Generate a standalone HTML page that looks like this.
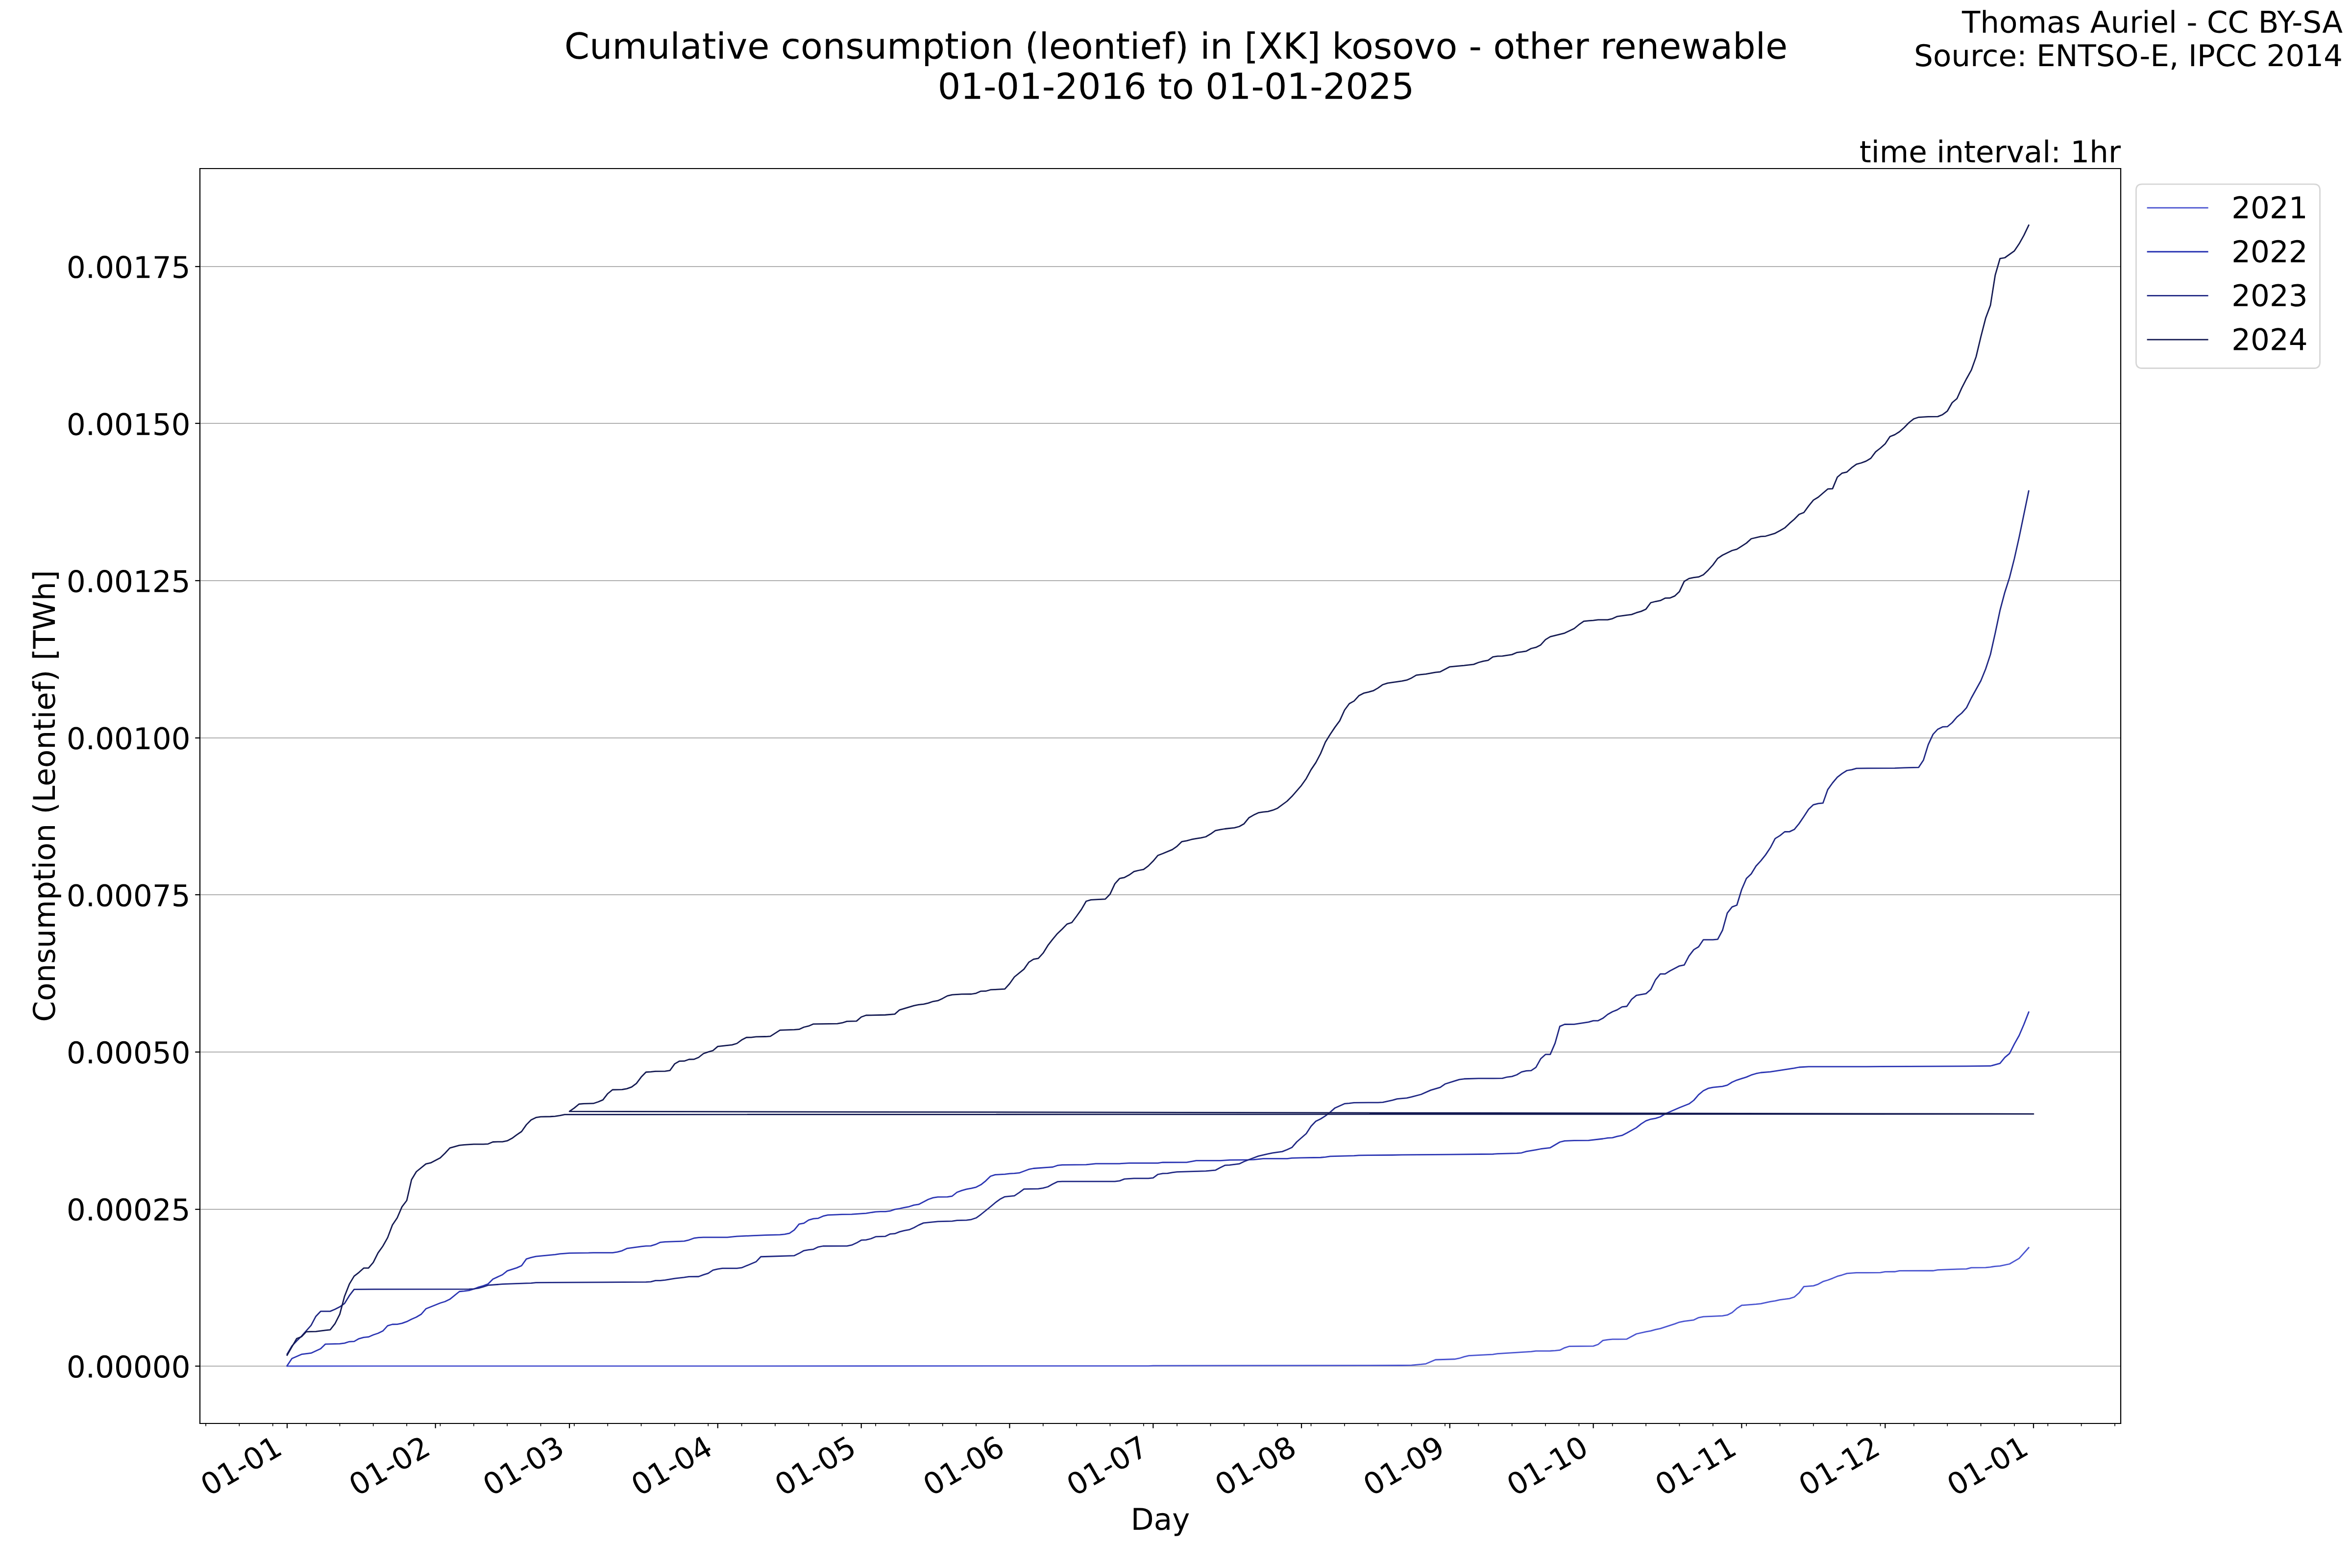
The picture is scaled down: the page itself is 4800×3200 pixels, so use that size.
<!DOCTYPE html>
<html><head><meta charset="utf-8"><title>Cumulative consumption (leontief) in [XK] kosovo - other renewable</title>
<style>html,body{margin:0;padding:0;background:#fff;overflow:hidden;font-family:"Liberation Sans",sans-serif}svg{display:block}</style>
</head><body>
<svg width="4800" height="3200" viewBox="0 0 1728 1152" version="1.1">
 <defs>
  <style type="text/css">*{stroke-linejoin: round; stroke-linecap: butt}</style>
 </defs>
 <g id="figure_1">
  <g id="patch_1">
   <path d="M 0 1152 L 1728 1152 L 1728 0 L 0 0 z
" style="fill: #ffffff"/>
  </g>
  <g id="axes_1">
   <g id="patch_2">
    <path d="M 146.88 1045.8 L 1558.08 1045.8 L 1558.08 123.84 L 146.88 123.84 z
" style="fill: #ffffff"/>
   </g>
   <g id="matplotlib.axis_1">
    <g id="xtick_1">
     <g id="line2d_1">
      <defs>
       <path id="m1504cfccaf" d="M 0 0 L 0 3.5 " style="stroke: #000000; stroke-width: 0.8"/>
      </defs>
      <g>
       <use href="#m1504cfccaf" x="210.96" y="1045.8" style="stroke: #000000; stroke-width: 0.8"/>
      </g>
     </g>
     <g id="text_1">
      <!-- 01-01 -->
      <g transform="translate(153.309775 1099.600562) rotate(-30) scale(0.22 -0.22)">
       <defs>
        <path id="DejaVuSans-30" d="M 2034 4250 Q 1547 4250 1301 3770 Q 1056 3291 1056 2328 Q 1056 1369 1301 889 Q 1547 409 2034 409 Q 2525 409 2770 889 Q 3016 1369 3016 2328 Q 3016 3291 2770 3770 Q 2525 4250 2034 4250 z
M 2034 4750 Q 2819 4750 3233 4129 Q 3647 3509 3647 2328 Q 3647 1150 3233 529 Q 2819 -91 2034 -91 Q 1250 -91 836 529 Q 422 1150 422 2328 Q 422 3509 836 4129 Q 1250 4750 2034 4750 z
" transform="scale(0.015625)"/>
        <path id="DejaVuSans-31" d="M 794 531 L 1825 531 L 1825 4091 L 703 3866 L 703 4441 L 1819 4666 L 2450 4666 L 2450 531 L 3481 531 L 3481 0 L 794 0 L 794 531 z
" transform="scale(0.015625)"/>
        <path id="DejaVuSans-2d" d="M 313 2009 L 1997 2009 L 1997 1497 L 313 1497 L 313 2009 z
" transform="scale(0.015625)"/>
       </defs>
       <use href="#DejaVuSans-30"/>
       <use href="#DejaVuSans-31" transform="translate(63.623047 0)"/>
       <use href="#DejaVuSans-2d" transform="translate(127.246094 0)"/>
       <use href="#DejaVuSans-30" transform="translate(163.330078 0)"/>
       <use href="#DejaVuSans-31" transform="translate(226.953125 0)"/>
      </g>
     </g>
    </g>
    <g id="xtick_2">
     <g id="line2d_2">
      <g>
       <use href="#m1504cfccaf" x="319.930521" y="1045.8" style="stroke: #000000; stroke-width: 0.8"/>
      </g>
     </g>
     <g id="text_2">
      <!-- 01-02 -->
      <g transform="translate(262.280296 1099.600562) rotate(-30) scale(0.22 -0.22)">
       <defs>
        <path id="DejaVuSans-32" d="M 1228 531 L 3431 531 L 3431 0 L 469 0 L 469 531 Q 828 903 1448 1529 Q 2069 2156 2228 2338 Q 2531 2678 2651 2914 Q 2772 3150 2772 3378 Q 2772 3750 2511 3984 Q 2250 4219 1831 4219 Q 1534 4219 1204 4116 Q 875 4013 500 3803 L 500 4441 Q 881 4594 1212 4672 Q 1544 4750 1819 4750 Q 2544 4750 2975 4387 Q 3406 4025 3406 3419 Q 3406 3131 3298 2873 Q 3191 2616 2906 2266 Q 2828 2175 2409 1742 Q 1991 1309 1228 531 z
" transform="scale(0.015625)"/>
       </defs>
       <use href="#DejaVuSans-30"/>
       <use href="#DejaVuSans-31" transform="translate(63.623047 0)"/>
       <use href="#DejaVuSans-2d" transform="translate(127.246094 0)"/>
       <use href="#DejaVuSans-30" transform="translate(163.330078 0)"/>
       <use href="#DejaVuSans-32" transform="translate(226.953125 0)"/>
      </g>
     </g>
    </g>
    <g id="xtick_3">
     <g id="line2d_3">
      <g>
       <use href="#m1504cfccaf" x="418.355507" y="1045.8" style="stroke: #000000; stroke-width: 0.8"/>
      </g>
     </g>
     <g id="text_3">
      <!-- 01-03 -->
      <g transform="translate(360.705282 1099.600562) rotate(-30) scale(0.22 -0.22)">
       <defs>
        <path id="DejaVuSans-33" d="M 2597 2516 Q 3050 2419 3304 2112 Q 3559 1806 3559 1356 Q 3559 666 3084 287 Q 2609 -91 1734 -91 Q 1441 -91 1130 -33 Q 819 25 488 141 L 488 750 Q 750 597 1062 519 Q 1375 441 1716 441 Q 2309 441 2620 675 Q 2931 909 2931 1356 Q 2931 1769 2642 2001 Q 2353 2234 1838 2234 L 1294 2234 L 1294 2753 L 1863 2753 Q 2328 2753 2575 2939 Q 2822 3125 2822 3475 Q 2822 3834 2567 4026 Q 2313 4219 1838 4219 Q 1578 4219 1281 4162 Q 984 4106 628 3988 L 628 4550 Q 988 4650 1302 4700 Q 1616 4750 1894 4750 Q 2613 4750 3031 4423 Q 3450 4097 3450 3541 Q 3450 3153 3228 2886 Q 3006 2619 2597 2516 z
" transform="scale(0.015625)"/>
       </defs>
       <use href="#DejaVuSans-30"/>
       <use href="#DejaVuSans-31" transform="translate(63.623047 0)"/>
       <use href="#DejaVuSans-2d" transform="translate(127.246094 0)"/>
       <use href="#DejaVuSans-30" transform="translate(163.330078 0)"/>
       <use href="#DejaVuSans-33" transform="translate(226.953125 0)"/>
      </g>
     </g>
    </g>
    <g id="xtick_4">
     <g id="line2d_4">
      <g>
       <use href="#m1504cfccaf" x="527.326027" y="1045.8" style="stroke: #000000; stroke-width: 0.8"/>
      </g>
     </g>
     <g id="text_4">
      <!-- 01-04 -->
      <g transform="translate(469.675803 1099.600562) rotate(-30) scale(0.22 -0.22)">
       <defs>
        <path id="DejaVuSans-34" d="M 2419 4116 L 825 1625 L 2419 1625 L 2419 4116 z
M 2253 4666 L 3047 4666 L 3047 1625 L 3713 1625 L 3713 1100 L 3047 1100 L 3047 0 L 2419 0 L 2419 1100 L 313 1100 L 313 1709 L 2253 4666 z
" transform="scale(0.015625)"/>
       </defs>
       <use href="#DejaVuSans-30"/>
       <use href="#DejaVuSans-31" transform="translate(63.623047 0)"/>
       <use href="#DejaVuSans-2d" transform="translate(127.246094 0)"/>
       <use href="#DejaVuSans-30" transform="translate(163.330078 0)"/>
       <use href="#DejaVuSans-34" transform="translate(226.953125 0)"/>
      </g>
     </g>
    </g>
    <g id="xtick_5">
     <g id="line2d_5">
      <g>
       <use href="#m1504cfccaf" x="632.78137" y="1045.8" style="stroke: #000000; stroke-width: 0.8"/>
      </g>
     </g>
     <g id="text_5">
      <!-- 01-05 -->
      <g transform="translate(575.131145 1099.600562) rotate(-30) scale(0.22 -0.22)">
       <defs>
        <path id="DejaVuSans-35" d="M 691 4666 L 3169 4666 L 3169 4134 L 1269 4134 L 1269 2991 Q 1406 3038 1543 3061 Q 1681 3084 1819 3084 Q 2600 3084 3056 2656 Q 3513 2228 3513 1497 Q 3513 744 3044 326 Q 2575 -91 1722 -91 Q 1428 -91 1123 -41 Q 819 9 494 109 L 494 744 Q 775 591 1075 516 Q 1375 441 1709 441 Q 2250 441 2565 725 Q 2881 1009 2881 1497 Q 2881 1984 2565 2268 Q 2250 2553 1709 2553 Q 1456 2553 1204 2497 Q 953 2441 691 2322 L 691 4666 z
" transform="scale(0.015625)"/>
       </defs>
       <use href="#DejaVuSans-30"/>
       <use href="#DejaVuSans-31" transform="translate(63.623047 0)"/>
       <use href="#DejaVuSans-2d" transform="translate(127.246094 0)"/>
       <use href="#DejaVuSans-30" transform="translate(163.330078 0)"/>
       <use href="#DejaVuSans-35" transform="translate(226.953125 0)"/>
      </g>
     </g>
    </g>
    <g id="xtick_6">
     <g id="line2d_6">
      <g>
       <use href="#m1504cfccaf" x="741.75189" y="1045.8" style="stroke: #000000; stroke-width: 0.8"/>
      </g>
     </g>
     <g id="text_6">
      <!-- 01-06 -->
      <g transform="translate(684.101666 1099.600562) rotate(-30) scale(0.22 -0.22)">
       <defs>
        <path id="DejaVuSans-36" d="M 2113 2584 Q 1688 2584 1439 2293 Q 1191 2003 1191 1497 Q 1191 994 1439 701 Q 1688 409 2113 409 Q 2538 409 2786 701 Q 3034 994 3034 1497 Q 3034 2003 2786 2293 Q 2538 2584 2113 2584 z
M 3366 4563 L 3366 3988 Q 3128 4100 2886 4159 Q 2644 4219 2406 4219 Q 1781 4219 1451 3797 Q 1122 3375 1075 2522 Q 1259 2794 1537 2939 Q 1816 3084 2150 3084 Q 2853 3084 3261 2657 Q 3669 2231 3669 1497 Q 3669 778 3244 343 Q 2819 -91 2113 -91 Q 1303 -91 875 529 Q 447 1150 447 2328 Q 447 3434 972 4092 Q 1497 4750 2381 4750 Q 2619 4750 2861 4703 Q 3103 4656 3366 4563 z
" transform="scale(0.015625)"/>
       </defs>
       <use href="#DejaVuSans-30"/>
       <use href="#DejaVuSans-31" transform="translate(63.623047 0)"/>
       <use href="#DejaVuSans-2d" transform="translate(127.246094 0)"/>
       <use href="#DejaVuSans-30" transform="translate(163.330078 0)"/>
       <use href="#DejaVuSans-36" transform="translate(226.953125 0)"/>
      </g>
     </g>
    </g>
    <g id="xtick_7">
     <g id="line2d_7">
      <g>
       <use href="#m1504cfccaf" x="847.207233" y="1045.8" style="stroke: #000000; stroke-width: 0.8"/>
      </g>
     </g>
     <g id="text_7">
      <!-- 01-07 -->
      <g transform="translate(789.557008 1099.600562) rotate(-30) scale(0.22 -0.22)">
       <defs>
        <path id="DejaVuSans-37" d="M 525 4666 L 3525 4666 L 3525 4397 L 1831 0 L 1172 0 L 2766 4134 L 525 4134 L 525 4666 z
" transform="scale(0.015625)"/>
       </defs>
       <use href="#DejaVuSans-30"/>
       <use href="#DejaVuSans-31" transform="translate(63.623047 0)"/>
       <use href="#DejaVuSans-2d" transform="translate(127.246094 0)"/>
       <use href="#DejaVuSans-30" transform="translate(163.330078 0)"/>
       <use href="#DejaVuSans-37" transform="translate(226.953125 0)"/>
      </g>
     </g>
    </g>
    <g id="xtick_8">
     <g id="line2d_8">
      <g>
       <use href="#m1504cfccaf" x="956.177753" y="1045.8" style="stroke: #000000; stroke-width: 0.8"/>
      </g>
     </g>
     <g id="text_8">
      <!-- 01-08 -->
      <g transform="translate(898.527529 1099.600562) rotate(-30) scale(0.22 -0.22)">
       <defs>
        <path id="DejaVuSans-38" d="M 2034 2216 Q 1584 2216 1326 1975 Q 1069 1734 1069 1313 Q 1069 891 1326 650 Q 1584 409 2034 409 Q 2484 409 2743 651 Q 3003 894 3003 1313 Q 3003 1734 2745 1975 Q 2488 2216 2034 2216 z
M 1403 2484 Q 997 2584 770 2862 Q 544 3141 544 3541 Q 544 4100 942 4425 Q 1341 4750 2034 4750 Q 2731 4750 3128 4425 Q 3525 4100 3525 3541 Q 3525 3141 3298 2862 Q 3072 2584 2669 2484 Q 3125 2378 3379 2068 Q 3634 1759 3634 1313 Q 3634 634 3220 271 Q 2806 -91 2034 -91 Q 1263 -91 848 271 Q 434 634 434 1313 Q 434 1759 690 2068 Q 947 2378 1403 2484 z
M 1172 3481 Q 1172 3119 1398 2916 Q 1625 2713 2034 2713 Q 2441 2713 2670 2916 Q 2900 3119 2900 3481 Q 2900 3844 2670 4047 Q 2441 4250 2034 4250 Q 1625 4250 1398 4047 Q 1172 3844 1172 3481 z
" transform="scale(0.015625)"/>
       </defs>
       <use href="#DejaVuSans-30"/>
       <use href="#DejaVuSans-31" transform="translate(63.623047 0)"/>
       <use href="#DejaVuSans-2d" transform="translate(127.246094 0)"/>
       <use href="#DejaVuSans-30" transform="translate(163.330078 0)"/>
       <use href="#DejaVuSans-38" transform="translate(226.953125 0)"/>
      </g>
     </g>
    </g>
    <g id="xtick_9">
     <g id="line2d_9">
      <g>
       <use href="#m1504cfccaf" x="1065.148274" y="1045.8" style="stroke: #000000; stroke-width: 0.8"/>
      </g>
     </g>
     <g id="text_9">
      <!-- 01-09 -->
      <g transform="translate(1007.498049 1099.600562) rotate(-30) scale(0.22 -0.22)">
       <defs>
        <path id="DejaVuSans-39" d="M 703 97 L 703 672 Q 941 559 1184 500 Q 1428 441 1663 441 Q 2288 441 2617 861 Q 2947 1281 2994 2138 Q 2813 1869 2534 1725 Q 2256 1581 1919 1581 Q 1219 1581 811 2004 Q 403 2428 403 3163 Q 403 3881 828 4315 Q 1253 4750 1959 4750 Q 2769 4750 3195 4129 Q 3622 3509 3622 2328 Q 3622 1225 3098 567 Q 2575 -91 1691 -91 Q 1453 -91 1209 -44 Q 966 3 703 97 z
M 1959 2075 Q 2384 2075 2632 2365 Q 2881 2656 2881 3163 Q 2881 3666 2632 3958 Q 2384 4250 1959 4250 Q 1534 4250 1286 3958 Q 1038 3666 1038 3163 Q 1038 2656 1286 2365 Q 1534 2075 1959 2075 z
" transform="scale(0.015625)"/>
       </defs>
       <use href="#DejaVuSans-30"/>
       <use href="#DejaVuSans-31" transform="translate(63.623047 0)"/>
       <use href="#DejaVuSans-2d" transform="translate(127.246094 0)"/>
       <use href="#DejaVuSans-30" transform="translate(163.330078 0)"/>
       <use href="#DejaVuSans-39" transform="translate(226.953125 0)"/>
      </g>
     </g>
    </g>
    <g id="xtick_10">
     <g id="line2d_10">
      <g>
       <use href="#m1504cfccaf" x="1170.603616" y="1045.8" style="stroke: #000000; stroke-width: 0.8"/>
      </g>
     </g>
     <g id="text_10">
      <!-- 01-10 -->
      <g transform="translate(1112.953392 1099.600562) rotate(-30) scale(0.22 -0.22)">
       <use href="#DejaVuSans-30"/>
       <use href="#DejaVuSans-31" transform="translate(63.623047 0)"/>
       <use href="#DejaVuSans-2d" transform="translate(127.246094 0)"/>
       <use href="#DejaVuSans-31" transform="translate(163.330078 0)"/>
       <use href="#DejaVuSans-30" transform="translate(226.953125 0)"/>
      </g>
     </g>
    </g>
    <g id="xtick_11">
     <g id="line2d_11">
      <g>
       <use href="#m1504cfccaf" x="1279.574137" y="1045.8" style="stroke: #000000; stroke-width: 0.8"/>
      </g>
     </g>
     <g id="text_11">
      <!-- 01-11 -->
      <g transform="translate(1221.923912 1099.600562) rotate(-30) scale(0.22 -0.22)">
       <use href="#DejaVuSans-30"/>
       <use href="#DejaVuSans-31" transform="translate(63.623047 0)"/>
       <use href="#DejaVuSans-2d" transform="translate(127.246094 0)"/>
       <use href="#DejaVuSans-31" transform="translate(163.330078 0)"/>
       <use href="#DejaVuSans-31" transform="translate(226.953125 0)"/>
      </g>
     </g>
    </g>
    <g id="xtick_12">
     <g id="line2d_12">
      <g>
       <use href="#m1504cfccaf" x="1385.029479" y="1045.8" style="stroke: #000000; stroke-width: 0.8"/>
      </g>
     </g>
     <g id="text_12">
      <!-- 01-12 -->
      <g transform="translate(1327.379255 1099.600562) rotate(-30) scale(0.22 -0.22)">
       <use href="#DejaVuSans-30"/>
       <use href="#DejaVuSans-31" transform="translate(63.623047 0)"/>
       <use href="#DejaVuSans-2d" transform="translate(127.246094 0)"/>
       <use href="#DejaVuSans-31" transform="translate(163.330078 0)"/>
       <use href="#DejaVuSans-32" transform="translate(226.953125 0)"/>
      </g>
     </g>
    </g>
    <g id="xtick_13">
     <g id="line2d_13">
      <g>
       <use href="#m1504cfccaf" x="1494" y="1045.8" style="stroke: #000000; stroke-width: 0.8"/>
      </g>
     </g>
     <g id="text_13">
      <!-- 01-01 -->
      <g transform="translate(1436.349775 1099.600562) rotate(-30) scale(0.22 -0.22)">
       <use href="#DejaVuSans-30"/>
       <use href="#DejaVuSans-31" transform="translate(63.623047 0)"/>
       <use href="#DejaVuSans-2d" transform="translate(127.246094 0)"/>
       <use href="#DejaVuSans-30" transform="translate(163.330078 0)"/>
       <use href="#DejaVuSans-31" transform="translate(226.953125 0)"/>
      </g>
     </g>
    </g>
    <g id="xtick_14">
     <g id="line2d_14">
      <defs>
       <path id="m05db3bdf9b" d="M 0 0 L 0 2 " style="stroke: #000000; stroke-width: 0.6"/>
      </defs>
      <g>
       <use href="#m05db3bdf9b" x="151.201973" y="1045.8" style="stroke: #000000; stroke-width: 0.6"/>
      </g>
     </g>
    </g>
    <g id="xtick_15">
     <g id="line2d_15">
      <g>
       <use href="#m05db3bdf9b" x="175.808219" y="1045.8" style="stroke: #000000; stroke-width: 0.6"/>
      </g>
     </g>
    </g>
    <g id="xtick_16">
     <g id="line2d_16">
      <g>
       <use href="#m05db3bdf9b" x="200.414466" y="1045.8" style="stroke: #000000; stroke-width: 0.6"/>
      </g>
     </g>
    </g>
    <g id="xtick_17">
     <g id="line2d_17">
      <g>
       <use href="#m05db3bdf9b" x="225.020712" y="1045.8" style="stroke: #000000; stroke-width: 0.6"/>
      </g>
     </g>
    </g>
    <g id="xtick_18">
     <g id="line2d_18">
      <g>
       <use href="#m05db3bdf9b" x="249.626959" y="1045.8" style="stroke: #000000; stroke-width: 0.6"/>
      </g>
     </g>
    </g>
    <g id="xtick_19">
     <g id="line2d_19">
      <g>
       <use href="#m05db3bdf9b" x="274.233205" y="1045.8" style="stroke: #000000; stroke-width: 0.6"/>
      </g>
     </g>
    </g>
    <g id="xtick_20">
     <g id="line2d_20">
      <g>
       <use href="#m05db3bdf9b" x="298.839452" y="1045.8" style="stroke: #000000; stroke-width: 0.6"/>
      </g>
     </g>
    </g>
    <g id="xtick_21">
     <g id="line2d_21">
      <g>
       <use href="#m05db3bdf9b" x="323.445699" y="1045.8" style="stroke: #000000; stroke-width: 0.6"/>
      </g>
     </g>
    </g>
    <g id="xtick_22">
     <g id="line2d_22">
      <g>
       <use href="#m05db3bdf9b" x="348.051945" y="1045.8" style="stroke: #000000; stroke-width: 0.6"/>
      </g>
     </g>
    </g>
    <g id="xtick_23">
     <g id="line2d_23">
      <g>
       <use href="#m05db3bdf9b" x="372.658192" y="1045.8" style="stroke: #000000; stroke-width: 0.6"/>
      </g>
     </g>
    </g>
    <g id="xtick_24">
     <g id="line2d_24">
      <g>
       <use href="#m05db3bdf9b" x="397.264438" y="1045.8" style="stroke: #000000; stroke-width: 0.6"/>
      </g>
     </g>
    </g>
    <g id="xtick_25">
     <g id="line2d_25">
      <g>
       <use href="#m05db3bdf9b" x="421.870685" y="1045.8" style="stroke: #000000; stroke-width: 0.6"/>
      </g>
     </g>
    </g>
    <g id="xtick_26">
     <g id="line2d_26">
      <g>
       <use href="#m05db3bdf9b" x="446.476932" y="1045.8" style="stroke: #000000; stroke-width: 0.6"/>
      </g>
     </g>
    </g>
    <g id="xtick_27">
     <g id="line2d_27">
      <g>
       <use href="#m05db3bdf9b" x="471.083178" y="1045.8" style="stroke: #000000; stroke-width: 0.6"/>
      </g>
     </g>
    </g>
    <g id="xtick_28">
     <g id="line2d_28">
      <g>
       <use href="#m05db3bdf9b" x="495.689425" y="1045.8" style="stroke: #000000; stroke-width: 0.6"/>
      </g>
     </g>
    </g>
    <g id="xtick_29">
     <g id="line2d_29">
      <g>
       <use href="#m05db3bdf9b" x="520.295671" y="1045.8" style="stroke: #000000; stroke-width: 0.6"/>
      </g>
     </g>
    </g>
    <g id="xtick_30">
     <g id="line2d_30">
      <g>
       <use href="#m05db3bdf9b" x="544.901918" y="1045.8" style="stroke: #000000; stroke-width: 0.6"/>
      </g>
     </g>
    </g>
    <g id="xtick_31">
     <g id="line2d_31">
      <g>
       <use href="#m05db3bdf9b" x="569.508164" y="1045.8" style="stroke: #000000; stroke-width: 0.6"/>
      </g>
     </g>
    </g>
    <g id="xtick_32">
     <g id="line2d_32">
      <g>
       <use href="#m05db3bdf9b" x="594.114411" y="1045.8" style="stroke: #000000; stroke-width: 0.6"/>
      </g>
     </g>
    </g>
    <g id="xtick_33">
     <g id="line2d_33">
      <g>
       <use href="#m05db3bdf9b" x="618.720658" y="1045.8" style="stroke: #000000; stroke-width: 0.6"/>
      </g>
     </g>
    </g>
    <g id="xtick_34">
     <g id="line2d_34">
      <g>
       <use href="#m05db3bdf9b" x="643.326904" y="1045.8" style="stroke: #000000; stroke-width: 0.6"/>
      </g>
     </g>
    </g>
    <g id="xtick_35">
     <g id="line2d_35">
      <g>
       <use href="#m05db3bdf9b" x="667.933151" y="1045.8" style="stroke: #000000; stroke-width: 0.6"/>
      </g>
     </g>
    </g>
    <g id="xtick_36">
     <g id="line2d_36">
      <g>
       <use href="#m05db3bdf9b" x="692.539397" y="1045.8" style="stroke: #000000; stroke-width: 0.6"/>
      </g>
     </g>
    </g>
    <g id="xtick_37">
     <g id="line2d_37">
      <g>
       <use href="#m05db3bdf9b" x="717.145644" y="1045.8" style="stroke: #000000; stroke-width: 0.6"/>
      </g>
     </g>
    </g>
    <g id="xtick_38">
     <g id="line2d_38">
      <g>
       <use href="#m05db3bdf9b" x="766.358137" y="1045.8" style="stroke: #000000; stroke-width: 0.6"/>
      </g>
     </g>
    </g>
    <g id="xtick_39">
     <g id="line2d_39">
      <g>
       <use href="#m05db3bdf9b" x="790.964384" y="1045.8" style="stroke: #000000; stroke-width: 0.6"/>
      </g>
     </g>
    </g>
    <g id="xtick_40">
     <g id="line2d_40">
      <g>
       <use href="#m05db3bdf9b" x="815.57063" y="1045.8" style="stroke: #000000; stroke-width: 0.6"/>
      </g>
     </g>
    </g>
    <g id="xtick_41">
     <g id="line2d_41">
      <g>
       <use href="#m05db3bdf9b" x="840.176877" y="1045.8" style="stroke: #000000; stroke-width: 0.6"/>
      </g>
     </g>
    </g>
    <g id="xtick_42">
     <g id="line2d_42">
      <g>
       <use href="#m05db3bdf9b" x="864.783123" y="1045.8" style="stroke: #000000; stroke-width: 0.6"/>
      </g>
     </g>
    </g>
    <g id="xtick_43">
     <g id="line2d_43">
      <g>
       <use href="#m05db3bdf9b" x="889.38937" y="1045.8" style="stroke: #000000; stroke-width: 0.6"/>
      </g>
     </g>
    </g>
    <g id="xtick_44">
     <g id="line2d_44">
      <g>
       <use href="#m05db3bdf9b" x="913.995616" y="1045.8" style="stroke: #000000; stroke-width: 0.6"/>
      </g>
     </g>
    </g>
    <g id="xtick_45">
     <g id="line2d_45">
      <g>
       <use href="#m05db3bdf9b" x="938.601863" y="1045.8" style="stroke: #000000; stroke-width: 0.6"/>
      </g>
     </g>
    </g>
    <g id="xtick_46">
     <g id="line2d_46">
      <g>
       <use href="#m05db3bdf9b" x="963.20811" y="1045.8" style="stroke: #000000; stroke-width: 0.6"/>
      </g>
     </g>
    </g>
    <g id="xtick_47">
     <g id="line2d_47">
      <g>
       <use href="#m05db3bdf9b" x="987.814356" y="1045.8" style="stroke: #000000; stroke-width: 0.6"/>
      </g>
     </g>
    </g>
    <g id="xtick_48">
     <g id="line2d_48">
      <g>
       <use href="#m05db3bdf9b" x="1012.420603" y="1045.8" style="stroke: #000000; stroke-width: 0.6"/>
      </g>
     </g>
    </g>
    <g id="xtick_49">
     <g id="line2d_49">
      <g>
       <use href="#m05db3bdf9b" x="1037.026849" y="1045.8" style="stroke: #000000; stroke-width: 0.6"/>
      </g>
     </g>
    </g>
    <g id="xtick_50">
     <g id="line2d_50">
      <g>
       <use href="#m05db3bdf9b" x="1061.633096" y="1045.8" style="stroke: #000000; stroke-width: 0.6"/>
      </g>
     </g>
    </g>
    <g id="xtick_51">
     <g id="line2d_51">
      <g>
       <use href="#m05db3bdf9b" x="1086.239342" y="1045.8" style="stroke: #000000; stroke-width: 0.6"/>
      </g>
     </g>
    </g>
    <g id="xtick_52">
     <g id="line2d_52">
      <g>
       <use href="#m05db3bdf9b" x="1110.845589" y="1045.8" style="stroke: #000000; stroke-width: 0.6"/>
      </g>
     </g>
    </g>
    <g id="xtick_53">
     <g id="line2d_53">
      <g>
       <use href="#m05db3bdf9b" x="1135.451836" y="1045.8" style="stroke: #000000; stroke-width: 0.6"/>
      </g>
     </g>
    </g>
    <g id="xtick_54">
     <g id="line2d_54">
      <g>
       <use href="#m05db3bdf9b" x="1160.058082" y="1045.8" style="stroke: #000000; stroke-width: 0.6"/>
      </g>
     </g>
    </g>
    <g id="xtick_55">
     <g id="line2d_55">
      <g>
       <use href="#m05db3bdf9b" x="1184.664329" y="1045.8" style="stroke: #000000; stroke-width: 0.6"/>
      </g>
     </g>
    </g>
    <g id="xtick_56">
     <g id="line2d_56">
      <g>
       <use href="#m05db3bdf9b" x="1209.270575" y="1045.8" style="stroke: #000000; stroke-width: 0.6"/>
      </g>
     </g>
    </g>
    <g id="xtick_57">
     <g id="line2d_57">
      <g>
       <use href="#m05db3bdf9b" x="1233.876822" y="1045.8" style="stroke: #000000; stroke-width: 0.6"/>
      </g>
     </g>
    </g>
    <g id="xtick_58">
     <g id="line2d_58">
      <g>
       <use href="#m05db3bdf9b" x="1258.483068" y="1045.8" style="stroke: #000000; stroke-width: 0.6"/>
      </g>
     </g>
    </g>
    <g id="xtick_59">
     <g id="line2d_59">
      <g>
       <use href="#m05db3bdf9b" x="1283.089315" y="1045.8" style="stroke: #000000; stroke-width: 0.6"/>
      </g>
     </g>
    </g>
    <g id="xtick_60">
     <g id="line2d_60">
      <g>
       <use href="#m05db3bdf9b" x="1307.695562" y="1045.8" style="stroke: #000000; stroke-width: 0.6"/>
      </g>
     </g>
    </g>
    <g id="xtick_61">
     <g id="line2d_61">
      <g>
       <use href="#m05db3bdf9b" x="1332.301808" y="1045.8" style="stroke: #000000; stroke-width: 0.6"/>
      </g>
     </g>
    </g>
    <g id="xtick_62">
     <g id="line2d_62">
      <g>
       <use href="#m05db3bdf9b" x="1356.908055" y="1045.8" style="stroke: #000000; stroke-width: 0.6"/>
      </g>
     </g>
    </g>
    <g id="xtick_63">
     <g id="line2d_63">
      <g>
       <use href="#m05db3bdf9b" x="1381.514301" y="1045.8" style="stroke: #000000; stroke-width: 0.6"/>
      </g>
     </g>
    </g>
    <g id="xtick_64">
     <g id="line2d_64">
      <g>
       <use href="#m05db3bdf9b" x="1406.120548" y="1045.8" style="stroke: #000000; stroke-width: 0.6"/>
      </g>
     </g>
    </g>
    <g id="xtick_65">
     <g id="line2d_65">
      <g>
       <use href="#m05db3bdf9b" x="1430.726795" y="1045.8" style="stroke: #000000; stroke-width: 0.6"/>
      </g>
     </g>
    </g>
    <g id="xtick_66">
     <g id="line2d_66">
      <g>
       <use href="#m05db3bdf9b" x="1455.333041" y="1045.8" style="stroke: #000000; stroke-width: 0.6"/>
      </g>
     </g>
    </g>
    <g id="xtick_67">
     <g id="line2d_67">
      <g>
       <use href="#m05db3bdf9b" x="1479.939288" y="1045.8" style="stroke: #000000; stroke-width: 0.6"/>
      </g>
     </g>
    </g>
    <g id="xtick_68">
     <g id="line2d_68">
      <g>
       <use href="#m05db3bdf9b" x="1504.545534" y="1045.8" style="stroke: #000000; stroke-width: 0.6"/>
      </g>
     </g>
    </g>
    <g id="xtick_69">
     <g id="line2d_69">
      <g>
       <use href="#m05db3bdf9b" x="1529.151781" y="1045.8" style="stroke: #000000; stroke-width: 0.6"/>
      </g>
     </g>
    </g>
    <g id="xtick_70">
     <g id="line2d_70">
      <g>
       <use href="#m05db3bdf9b" x="1553.758027" y="1045.8" style="stroke: #000000; stroke-width: 0.6"/>
      </g>
     </g>
    </g>
    <g id="text_14">
     <!-- Day -->
     <g transform="translate(830.758437 1123.919461) scale(0.22 -0.22)">
      <defs>
       <path id="DejaVuSans-44" d="M 1259 4147 L 1259 519 L 2022 519 Q 2988 519 3436 956 Q 3884 1394 3884 2338 Q 3884 3275 3436 3711 Q 2988 4147 2022 4147 L 1259 4147 z
M 628 4666 L 1925 4666 Q 3281 4666 3915 4102 Q 4550 3538 4550 2338 Q 4550 1131 3912 565 Q 3275 0 1925 0 L 628 0 L 628 4666 z
" transform="scale(0.015625)"/>
       <path id="DejaVuSans-61" d="M 2194 1759 Q 1497 1759 1228 1600 Q 959 1441 959 1056 Q 959 750 1161 570 Q 1363 391 1709 391 Q 2188 391 2477 730 Q 2766 1069 2766 1631 L 2766 1759 L 2194 1759 z
M 3341 1997 L 3341 0 L 2766 0 L 2766 531 Q 2569 213 2275 61 Q 1981 -91 1556 -91 Q 1019 -91 701 211 Q 384 513 384 1019 Q 384 1609 779 1909 Q 1175 2209 1959 2209 L 2766 2209 L 2766 2266 Q 2766 2663 2505 2880 Q 2244 3097 1772 3097 Q 1472 3097 1187 3025 Q 903 2953 641 2809 L 641 3341 Q 956 3463 1253 3523 Q 1550 3584 1831 3584 Q 2591 3584 2966 3190 Q 3341 2797 3341 1997 z
" transform="scale(0.015625)"/>
       <path id="DejaVuSans-79" d="M 2059 -325 Q 1816 -950 1584 -1140 Q 1353 -1331 966 -1331 L 506 -1331 L 506 -850 L 844 -850 Q 1081 -850 1212 -737 Q 1344 -625 1503 -206 L 1606 56 L 191 3500 L 800 3500 L 1894 763 L 2988 3500 L 3597 3500 L 2059 -325 z
" transform="scale(0.015625)"/>
      </defs>
      <use href="#DejaVuSans-44"/>
      <use href="#DejaVuSans-61" transform="translate(77.001953 0)"/>
      <use href="#DejaVuSans-79" transform="translate(138.28125 0)"/>
     </g>
    </g>
   </g>
   <g id="matplotlib.axis_2">
    <g id="ytick_1">
     <g id="line2d_71">
      <path d="M 146.88 1003.6800 L 1558.08 1003.6800 " clip-path="url(#p8bc5537859)" style="fill: none; stroke: #b0b0b0; stroke-width: 0.8; stroke-linecap: square"/>
     </g>
     <g id="line2d_72">
      <defs>
       <path id="m5d545ce8f8" d="M 0 0 L -3.5 0 " style="stroke: #000000; stroke-width: 0.8"/>
      </defs>
      <g>
       <use href="#m5d545ce8f8" x="146.88" y="1003.6800" style="stroke: #000000; stroke-width: 0.8"/>
      </g>
     </g>
     <g id="text_15">
      <!-- 0.00000 -->
      <g transform="translate(48.903125 1012.038281) scale(0.22 -0.22)">
       <defs>
        <path id="DejaVuSans-2e" d="M 684 794 L 1344 794 L 1344 0 L 684 0 L 684 794 z
" transform="scale(0.015625)"/>
       </defs>
       <use href="#DejaVuSans-30"/>
       <use href="#DejaVuSans-2e" transform="translate(63.623047 0)"/>
       <use href="#DejaVuSans-30" transform="translate(95.410156 0)"/>
       <use href="#DejaVuSans-30" transform="translate(159.033203 0)"/>
       <use href="#DejaVuSans-30" transform="translate(222.65625 0)"/>
       <use href="#DejaVuSans-30" transform="translate(286.279297 0)"/>
       <use href="#DejaVuSans-30" transform="translate(349.902344 0)"/>
      </g>
     </g>
    </g>
    <g id="ytick_2">
     <g id="line2d_73">
      <path d="M 146.88 888.4800 L 1558.08 888.4800 " clip-path="url(#p8bc5537859)" style="fill: none; stroke: #b0b0b0; stroke-width: 0.8; stroke-linecap: square"/>
     </g>
     <g id="line2d_74">
      <g>
       <use href="#m5d545ce8f8" x="146.88" y="888.4800" style="stroke: #000000; stroke-width: 0.8"/>
      </g>
     </g>
     <g id="text_16">
      <!-- 0.00025 -->
      <g transform="translate(48.903125 896.632567) scale(0.22 -0.22)">
       <use href="#DejaVuSans-30"/>
       <use href="#DejaVuSans-2e" transform="translate(63.623047 0)"/>
       <use href="#DejaVuSans-30" transform="translate(95.410156 0)"/>
       <use href="#DejaVuSans-30" transform="translate(159.033203 0)"/>
       <use href="#DejaVuSans-30" transform="translate(222.65625 0)"/>
       <use href="#DejaVuSans-32" transform="translate(286.279297 0)"/>
       <use href="#DejaVuSans-35" transform="translate(349.902344 0)"/>
      </g>
     </g>
    </g>
    <g id="ytick_3">
     <g id="line2d_75">
      <path d="M 146.88 772.9200 L 1558.08 772.9200 " clip-path="url(#p8bc5537859)" style="fill: none; stroke: #b0b0b0; stroke-width: 0.8; stroke-linecap: square"/>
     </g>
     <g id="line2d_76">
      <g>
       <use href="#m5d545ce8f8" x="146.88" y="772.9200" style="stroke: #000000; stroke-width: 0.8"/>
      </g>
     </g>
     <g id="text_17">
      <!-- 0.00050 -->
      <g transform="translate(48.903125 781.226853) scale(0.22 -0.22)">
       <use href="#DejaVuSans-30"/>
       <use href="#DejaVuSans-2e" transform="translate(63.623047 0)"/>
       <use href="#DejaVuSans-30" transform="translate(95.410156 0)"/>
       <use href="#DejaVuSans-30" transform="translate(159.033203 0)"/>
       <use href="#DejaVuSans-30" transform="translate(222.65625 0)"/>
       <use href="#DejaVuSans-35" transform="translate(286.279297 0)"/>
       <use href="#DejaVuSans-30" transform="translate(349.902344 0)"/>
      </g>
     </g>
    </g>
    <g id="ytick_4">
     <g id="line2d_77">
      <path d="M 146.88 657.3600 L 1558.08 657.3600 " clip-path="url(#p8bc5537859)" style="fill: none; stroke: #b0b0b0; stroke-width: 0.8; stroke-linecap: square"/>
     </g>
     <g id="line2d_78">
      <g>
       <use href="#m5d545ce8f8" x="146.88" y="657.3600" style="stroke: #000000; stroke-width: 0.8"/>
      </g>
     </g>
     <g id="text_18">
      <!-- 0.00075 -->
      <g transform="translate(48.903125 665.821138) scale(0.22 -0.22)">
       <use href="#DejaVuSans-30"/>
       <use href="#DejaVuSans-2e" transform="translate(63.623047 0)"/>
       <use href="#DejaVuSans-30" transform="translate(95.410156 0)"/>
       <use href="#DejaVuSans-30" transform="translate(159.033203 0)"/>
       <use href="#DejaVuSans-30" transform="translate(222.65625 0)"/>
       <use href="#DejaVuSans-37" transform="translate(286.279297 0)"/>
       <use href="#DejaVuSans-35" transform="translate(349.902344 0)"/>
      </g>
     </g>
    </g>
    <g id="ytick_5">
     <g id="line2d_79">
      <path d="M 146.88 542.1600 L 1558.08 542.1600 " clip-path="url(#p8bc5537859)" style="fill: none; stroke: #b0b0b0; stroke-width: 0.8; stroke-linecap: square"/>
     </g>
     <g id="line2d_80">
      <g>
       <use href="#m5d545ce8f8" x="146.88" y="542.1600" style="stroke: #000000; stroke-width: 0.8"/>
      </g>
     </g>
     <g id="text_19">
      <!-- 0.00100 -->
      <g transform="translate(48.903125 550.415424) scale(0.22 -0.22)">
       <use href="#DejaVuSans-30"/>
       <use href="#DejaVuSans-2e" transform="translate(63.623047 0)"/>
       <use href="#DejaVuSans-30" transform="translate(95.410156 0)"/>
       <use href="#DejaVuSans-30" transform="translate(159.033203 0)"/>
       <use href="#DejaVuSans-31" transform="translate(222.65625 0)"/>
       <use href="#DejaVuSans-30" transform="translate(286.279297 0)"/>
       <use href="#DejaVuSans-30" transform="translate(349.902344 0)"/>
      </g>
     </g>
    </g>
    <g id="ytick_6">
     <g id="line2d_81">
      <path d="M 146.88 426.6000 L 1558.08 426.6000 " clip-path="url(#p8bc5537859)" style="fill: none; stroke: #b0b0b0; stroke-width: 0.8; stroke-linecap: square"/>
     </g>
     <g id="line2d_82">
      <g>
       <use href="#m5d545ce8f8" x="146.88" y="426.6000" style="stroke: #000000; stroke-width: 0.8"/>
      </g>
     </g>
     <g id="text_20">
      <!-- 0.00125 -->
      <g transform="translate(48.903125 435.00971) scale(0.22 -0.22)">
       <use href="#DejaVuSans-30"/>
       <use href="#DejaVuSans-2e" transform="translate(63.623047 0)"/>
       <use href="#DejaVuSans-30" transform="translate(95.410156 0)"/>
       <use href="#DejaVuSans-30" transform="translate(159.033203 0)"/>
       <use href="#DejaVuSans-31" transform="translate(222.65625 0)"/>
       <use href="#DejaVuSans-32" transform="translate(286.279297 0)"/>
       <use href="#DejaVuSans-35" transform="translate(349.902344 0)"/>
      </g>
     </g>
    </g>
    <g id="ytick_7">
     <g id="line2d_83">
      <path d="M 146.88 311.0400 L 1558.08 311.0400 " clip-path="url(#p8bc5537859)" style="fill: none; stroke: #b0b0b0; stroke-width: 0.8; stroke-linecap: square"/>
     </g>
     <g id="line2d_84">
      <g>
       <use href="#m5d545ce8f8" x="146.88" y="311.0400" style="stroke: #000000; stroke-width: 0.8"/>
      </g>
     </g>
     <g id="text_21">
      <!-- 0.00150 -->
      <g transform="translate(48.903125 319.603996) scale(0.22 -0.22)">
       <use href="#DejaVuSans-30"/>
       <use href="#DejaVuSans-2e" transform="translate(63.623047 0)"/>
       <use href="#DejaVuSans-30" transform="translate(95.410156 0)"/>
       <use href="#DejaVuSans-30" transform="translate(159.033203 0)"/>
       <use href="#DejaVuSans-31" transform="translate(222.65625 0)"/>
       <use href="#DejaVuSans-35" transform="translate(286.279297 0)"/>
       <use href="#DejaVuSans-30" transform="translate(349.902344 0)"/>
      </g>
     </g>
    </g>
    <g id="ytick_8">
     <g id="line2d_85">
      <path d="M 146.88 195.8400 L 1558.08 195.8400 " clip-path="url(#p8bc5537859)" style="fill: none; stroke: #b0b0b0; stroke-width: 0.8; stroke-linecap: square"/>
     </g>
     <g id="line2d_86">
      <g>
       <use href="#m5d545ce8f8" x="146.88" y="195.8400" style="stroke: #000000; stroke-width: 0.8"/>
      </g>
     </g>
     <g id="text_22">
      <!-- 0.00175 -->
      <g transform="translate(48.903125 204.198281) scale(0.22 -0.22)">
       <use href="#DejaVuSans-30"/>
       <use href="#DejaVuSans-2e" transform="translate(63.623047 0)"/>
       <use href="#DejaVuSans-30" transform="translate(95.410156 0)"/>
       <use href="#DejaVuSans-30" transform="translate(159.033203 0)"/>
       <use href="#DejaVuSans-31" transform="translate(222.65625 0)"/>
       <use href="#DejaVuSans-37" transform="translate(286.279297 0)"/>
       <use href="#DejaVuSans-35" transform="translate(349.902344 0)"/>
      </g>
     </g>
    </g>
    <g id="text_23">
     <!-- Consumption (Leontief) [TWh] -->
     <g transform="translate(40.327813 750.813438) rotate(-90) scale(0.22 -0.22)">
      <defs>
       <path id="DejaVuSans-43" d="M 4122 4306 L 4122 3641 Q 3803 3938 3442 4084 Q 3081 4231 2675 4231 Q 1875 4231 1450 3742 Q 1025 3253 1025 2328 Q 1025 1406 1450 917 Q 1875 428 2675 428 Q 3081 428 3442 575 Q 3803 722 4122 1019 L 4122 359 Q 3791 134 3420 21 Q 3050 -91 2638 -91 Q 1578 -91 968 557 Q 359 1206 359 2328 Q 359 3453 968 4101 Q 1578 4750 2638 4750 Q 3056 4750 3426 4639 Q 3797 4528 4122 4306 z
" transform="scale(0.015625)"/>
       <path id="DejaVuSans-6f" d="M 1959 3097 Q 1497 3097 1228 2736 Q 959 2375 959 1747 Q 959 1119 1226 758 Q 1494 397 1959 397 Q 2419 397 2687 759 Q 2956 1122 2956 1747 Q 2956 2369 2687 2733 Q 2419 3097 1959 3097 z
M 1959 3584 Q 2709 3584 3137 3096 Q 3566 2609 3566 1747 Q 3566 888 3137 398 Q 2709 -91 1959 -91 Q 1206 -91 779 398 Q 353 888 353 1747 Q 353 2609 779 3096 Q 1206 3584 1959 3584 z
" transform="scale(0.015625)"/>
       <path id="DejaVuSans-6e" d="M 3513 2113 L 3513 0 L 2938 0 L 2938 2094 Q 2938 2591 2744 2837 Q 2550 3084 2163 3084 Q 1697 3084 1428 2787 Q 1159 2491 1159 1978 L 1159 0 L 581 0 L 581 3500 L 1159 3500 L 1159 2956 Q 1366 3272 1645 3428 Q 1925 3584 2291 3584 Q 2894 3584 3203 3211 Q 3513 2838 3513 2113 z
" transform="scale(0.015625)"/>
       <path id="DejaVuSans-73" d="M 2834 3397 L 2834 2853 Q 2591 2978 2328 3040 Q 2066 3103 1784 3103 Q 1356 3103 1142 2972 Q 928 2841 928 2578 Q 928 2378 1081 2264 Q 1234 2150 1697 2047 L 1894 2003 Q 2506 1872 2764 1633 Q 3022 1394 3022 966 Q 3022 478 2636 193 Q 2250 -91 1575 -91 Q 1294 -91 989 -36 Q 684 19 347 128 L 347 722 Q 666 556 975 473 Q 1284 391 1588 391 Q 1994 391 2212 530 Q 2431 669 2431 922 Q 2431 1156 2273 1281 Q 2116 1406 1581 1522 L 1381 1569 Q 847 1681 609 1914 Q 372 2147 372 2553 Q 372 3047 722 3315 Q 1072 3584 1716 3584 Q 2034 3584 2315 3537 Q 2597 3491 2834 3397 z
" transform="scale(0.015625)"/>
       <path id="DejaVuSans-75" d="M 544 1381 L 544 3500 L 1119 3500 L 1119 1403 Q 1119 906 1312 657 Q 1506 409 1894 409 Q 2359 409 2629 706 Q 2900 1003 2900 1516 L 2900 3500 L 3475 3500 L 3475 0 L 2900 0 L 2900 538 Q 2691 219 2414 64 Q 2138 -91 1772 -91 Q 1169 -91 856 284 Q 544 659 544 1381 z
M 1991 3584 L 1991 3584 z
" transform="scale(0.015625)"/>
       <path id="DejaVuSans-6d" d="M 3328 2828 Q 3544 3216 3844 3400 Q 4144 3584 4550 3584 Q 5097 3584 5394 3201 Q 5691 2819 5691 2113 L 5691 0 L 5113 0 L 5113 2094 Q 5113 2597 4934 2840 Q 4756 3084 4391 3084 Q 3944 3084 3684 2787 Q 3425 2491 3425 1978 L 3425 0 L 2847 0 L 2847 2094 Q 2847 2600 2669 2842 Q 2491 3084 2119 3084 Q 1678 3084 1418 2786 Q 1159 2488 1159 1978 L 1159 0 L 581 0 L 581 3500 L 1159 3500 L 1159 2956 Q 1356 3278 1631 3431 Q 1906 3584 2284 3584 Q 2666 3584 2933 3390 Q 3200 3197 3328 2828 z
" transform="scale(0.015625)"/>
       <path id="DejaVuSans-70" d="M 1159 525 L 1159 -1331 L 581 -1331 L 581 3500 L 1159 3500 L 1159 2969 Q 1341 3281 1617 3432 Q 1894 3584 2278 3584 Q 2916 3584 3314 3078 Q 3713 2572 3713 1747 Q 3713 922 3314 415 Q 2916 -91 2278 -91 Q 1894 -91 1617 61 Q 1341 213 1159 525 z
M 3116 1747 Q 3116 2381 2855 2742 Q 2594 3103 2138 3103 Q 1681 3103 1420 2742 Q 1159 2381 1159 1747 Q 1159 1113 1420 752 Q 1681 391 2138 391 Q 2594 391 2855 752 Q 3116 1113 3116 1747 z
" transform="scale(0.015625)"/>
       <path id="DejaVuSans-74" d="M 1172 4494 L 1172 3500 L 2356 3500 L 2356 3053 L 1172 3053 L 1172 1153 Q 1172 725 1289 603 Q 1406 481 1766 481 L 2356 481 L 2356 0 L 1766 0 Q 1100 0 847 248 Q 594 497 594 1153 L 594 3053 L 172 3053 L 172 3500 L 594 3500 L 594 4494 L 1172 4494 z
" transform="scale(0.015625)"/>
       <path id="DejaVuSans-69" d="M 603 3500 L 1178 3500 L 1178 0 L 603 0 L 603 3500 z
M 603 4863 L 1178 4863 L 1178 4134 L 603 4134 L 603 4863 z
" transform="scale(0.015625)"/>
       <path id="DejaVuSans-20" transform="scale(0.015625)"/>
       <path id="DejaVuSans-28" d="M 1984 4856 Q 1566 4138 1362 3434 Q 1159 2731 1159 2009 Q 1159 1288 1364 580 Q 1569 -128 1984 -844 L 1484 -844 Q 1016 -109 783 600 Q 550 1309 550 2009 Q 550 2706 781 3412 Q 1013 4119 1484 4856 L 1984 4856 z
" transform="scale(0.015625)"/>
       <path id="DejaVuSans-4c" d="M 628 4666 L 1259 4666 L 1259 531 L 3531 531 L 3531 0 L 628 0 L 628 4666 z
" transform="scale(0.015625)"/>
       <path id="DejaVuSans-65" d="M 3597 1894 L 3597 1613 L 953 1613 Q 991 1019 1311 708 Q 1631 397 2203 397 Q 2534 397 2845 478 Q 3156 559 3463 722 L 3463 178 Q 3153 47 2828 -22 Q 2503 -91 2169 -91 Q 1331 -91 842 396 Q 353 884 353 1716 Q 353 2575 817 3079 Q 1281 3584 2069 3584 Q 2775 3584 3186 3129 Q 3597 2675 3597 1894 z
M 3022 2063 Q 3016 2534 2758 2815 Q 2500 3097 2075 3097 Q 1594 3097 1305 2825 Q 1016 2553 972 2059 L 3022 2063 z
" transform="scale(0.015625)"/>
       <path id="DejaVuSans-66" d="M 2375 4863 L 2375 4384 L 1825 4384 Q 1516 4384 1395 4259 Q 1275 4134 1275 3809 L 1275 3500 L 2222 3500 L 2222 3053 L 1275 3053 L 1275 0 L 697 0 L 697 3053 L 147 3053 L 147 3500 L 697 3500 L 697 3744 Q 697 4328 969 4595 Q 1241 4863 1831 4863 L 2375 4863 z
" transform="scale(0.015625)"/>
       <path id="DejaVuSans-29" d="M 513 4856 L 1013 4856 Q 1481 4119 1714 3412 Q 1947 2706 1947 2009 Q 1947 1309 1714 600 Q 1481 -109 1013 -844 L 513 -844 Q 928 -128 1133 580 Q 1338 1288 1338 2009 Q 1338 2731 1133 3434 Q 928 4138 513 4856 z
" transform="scale(0.015625)"/>
       <path id="DejaVuSans-5b" d="M 550 4863 L 1875 4863 L 1875 4416 L 1125 4416 L 1125 -397 L 1875 -397 L 1875 -844 L 550 -844 L 550 4863 z
" transform="scale(0.015625)"/>
       <path id="DejaVuSans-54" d="M -19 4666 L 3928 4666 L 3928 4134 L 2272 4134 L 2272 0 L 1638 0 L 1638 4134 L -19 4134 L -19 4666 z
" transform="scale(0.015625)"/>
       <path id="DejaVuSans-57" d="M 213 4666 L 850 4666 L 1831 722 L 2809 4666 L 3519 4666 L 4500 722 L 5478 4666 L 6119 4666 L 4947 0 L 4153 0 L 3169 4050 L 2175 0 L 1381 0 L 213 4666 z
" transform="scale(0.015625)"/>
       <path id="DejaVuSans-68" d="M 3513 2113 L 3513 0 L 2938 0 L 2938 2094 Q 2938 2591 2744 2837 Q 2550 3084 2163 3084 Q 1697 3084 1428 2787 Q 1159 2491 1159 1978 L 1159 0 L 581 0 L 581 4863 L 1159 4863 L 1159 2956 Q 1366 3272 1645 3428 Q 1925 3584 2291 3584 Q 2894 3584 3203 3211 Q 3513 2838 3513 2113 z
" transform="scale(0.015625)"/>
       <path id="DejaVuSans-5d" d="M 1947 4863 L 1947 -844 L 622 -844 L 622 -397 L 1369 -397 L 1369 4416 L 622 4416 L 622 4863 L 1947 4863 z
" transform="scale(0.015625)"/>
      </defs>
      <use href="#DejaVuSans-43"/>
      <use href="#DejaVuSans-6f" transform="translate(69.824219 0)"/>
      <use href="#DejaVuSans-6e" transform="translate(131.005859 0)"/>
      <use href="#DejaVuSans-73" transform="translate(194.384766 0)"/>
      <use href="#DejaVuSans-75" transform="translate(246.484375 0)"/>
      <use href="#DejaVuSans-6d" transform="translate(309.863281 0)"/>
      <use href="#DejaVuSans-70" transform="translate(407.275391 0)"/>
      <use href="#DejaVuSans-74" transform="translate(470.751953 0)"/>
      <use href="#DejaVuSans-69" transform="translate(509.960938 0)"/>
      <use href="#DejaVuSans-6f" transform="translate(537.744141 0)"/>
      <use href="#DejaVuSans-6e" transform="translate(598.925781 0)"/>
      <use href="#DejaVuSans-20" transform="translate(662.304688 0)"/>
      <use href="#DejaVuSans-28" transform="translate(694.091797 0)"/>
      <use href="#DejaVuSans-4c" transform="translate(733.105469 0)"/>
      <use href="#DejaVuSans-65" transform="translate(787.068359 0)"/>
      <use href="#DejaVuSans-6f" transform="translate(848.591797 0)"/>
      <use href="#DejaVuSans-6e" transform="translate(909.773438 0)"/>
      <use href="#DejaVuSans-74" transform="translate(973.152344 0)"/>
      <use href="#DejaVuSans-69" transform="translate(1012.361328 0)"/>
      <use href="#DejaVuSans-65" transform="translate(1040.144531 0)"/>
      <use href="#DejaVuSans-66" transform="translate(1101.667969 0)"/>
      <use href="#DejaVuSans-29" transform="translate(1136.873047 0)"/>
      <use href="#DejaVuSans-20" transform="translate(1175.886719 0)"/>
      <use href="#DejaVuSans-5b" transform="translate(1207.673828 0)"/>
      <use href="#DejaVuSans-54" transform="translate(1246.6875 0)"/>
      <use href="#DejaVuSans-57" transform="translate(1307.771484 0)"/>
      <use href="#DejaVuSans-68" transform="translate(1406.648438 0)"/>
      <use href="#DejaVuSans-5d" transform="translate(1470.027344 0)"/>
     </g>
    </g>
   </g>
   <g id="line2d_87">
    <path d="M 210.96 1003.68 L 843.692055 1003.543397 L 847.207233 1003.391601 L 1029.996493 1003.144279 L 1037.026849 1003.009285 L 1044.057205 1002.406683 L 1047.572384 1001.972712 L 1054.60274 999.004713 L 1068.663452 998.554609 L 1072.17863 997.912275 L 1075.693808 996.822222 L 1079.208986 995.969101 L 1093.269699 995.263267 L 1096.784877 995.050904 L 1100.300055 994.558468 L 1124.906301 993.053116 L 1128.421479 992.551818 L 1138.967014 992.522107 L 1142.482192 992.32124 L 1145.99737 991.959818 L 1149.512548 990.208693 L 1153.027726 989.108027 L 1170.603616 988.943655 L 1174.118795 987.737568 L 1177.633973 984.838431 L 1181.149151 984.246221 L 1184.664329 983.951978 L 1195.209863 983.822374 L 1202.240219 980.012828 L 1209.270575 978.405889 L 1212.785753 977.802197 L 1216.300932 976.802392 L 1219.81611 976.094194 L 1230.361644 972.692169 L 1233.876822 971.390603 L 1237.392 970.659609 L 1244.422356 969.771573 L 1247.937534 968.045395 L 1251.452712 967.379194 L 1265.513425 966.697038 L 1269.028603 966.147428 L 1272.543781 964.355236 L 1276.058959 961.263625 L 1279.574137 959.028016 L 1290.119671 958.186213 L 1293.634849 957.822816 L 1300.665205 956.321686 L 1304.180384 955.719084 L 1307.695562 954.921186 L 1311.21074 954.533535 L 1314.725918 954.024543 L 1318.241096 952.919772 L 1321.756274 949.880294 L 1325.271452 945.23116 L 1332.301808 944.6754 L 1335.816986 943.491285 L 1339.332164 941.559244 L 1342.847342 940.484435 L 1346.362521 939.178797 L 1349.877699 937.676218 L 1353.392877 936.738645 L 1356.908055 935.609202 L 1363.938411 935.092105 L 1381.514301 934.953043 L 1385.029479 934.365491 L 1392.059836 934.294932 L 1395.575014 933.636915 L 1420.18126 933.573146 L 1423.696438 933.000788 L 1437.757151 932.424482 L 1444.787507 932.283875 L 1448.302685 931.343378 L 1458.848219 931.242214 L 1462.363397 930.890696 L 1465.878575 930.347503 L 1469.393753 930.069042 L 1476.42411 928.622495 L 1483.454466 924.51316 L 1490.484822 916.679335 L 1490.484822 916.679335 " clip-path="url(#p8bc5537859)" style="fill: none; stroke: #4a54d0; stroke-linecap: square"/>
   </g>
   <g id="line2d_88">
    <path d="M 210.96 1003.335444 L 214.475178 998.133124 L 221.505534 995.008521 L 228.53589 994.116121 L 235.566247 990.920609 L 239.081425 987.494322 L 249.626959 987.266903 L 253.142137 986.777443 L 256.657315 985.687823 L 260.172493 985.531593 L 263.687671 983.546946 L 267.202849 982.55084 L 270.718027 982.228232 L 274.233205 980.744046 L 277.748384 979.564102 L 281.263562 977.877514 L 284.77874 974.032415 L 288.293918 972.987263 L 291.809096 972.909148 L 295.324274 972.23031 L 298.839452 970.978274 L 302.35463 969.186712 L 305.869808 967.702525 L 309.384986 965.63291 L 312.900164 961.583325 L 323.445699 957.320468 L 326.960877 956.256806 L 330.476055 954.557357 L 337.506411 948.870063 L 341.021589 948.558599 L 344.536767 948.093868 L 348.051945 947.077452 L 351.567123 945.65238 L 355.082301 944.64257 L 358.597479 943.324596 L 362.112658 939.74605 L 369.143014 936.5481 L 372.658192 933.691216 L 379.688548 931.458675 L 383.203726 929.856457 L 386.718904 924.953709 L 390.234082 923.911119 L 393.74926 923.113579 L 407.809973 921.711045 L 411.325151 921.229935 L 418.355507 920.692391 L 432.416219 920.511678 L 435.931397 920.37551 L 449.99211 920.37551 L 453.507288 919.87177 L 457.022466 918.935568 L 460.537644 917.23604 L 471.083178 915.771791 L 474.598356 915.475149 L 478.113534 915.32885 L 481.628712 914.273988 L 485.14389 912.717783 L 488.659068 912.33643 L 499.204603 911.995727 L 502.719781 911.831459 L 506.234959 910.998917 L 509.750137 909.7089 L 513.265315 909.204897 L 516.780493 909.013066 L 534.356384 909.044285 L 541.38674 908.318137 L 551.932274 907.879896 L 562.477808 907.431286 L 573.023342 907.14797 L 576.538521 906.832704 L 580.053699 906.040182 L 583.568877 903.64318 L 587.084055 899.299993 L 590.599233 898.729964 L 594.114411 896.356816 L 597.629589 895.383591 L 601.144767 895.082926 L 604.659945 893.510347 L 608.175123 892.670876 L 615.205479 892.367164 L 618.720658 892.179687 L 625.751014 892.163265 L 636.296548 891.384033 L 643.326904 890.329393 L 646.842082 890.122381 L 650.35726 890.106122 L 653.872438 889.728864 L 657.387616 888.513646 L 660.902795 887.940586 L 664.417973 887.144674 L 667.933151 886.504552 L 671.448329 885.363888 L 674.963507 884.863782 L 681.993863 881.194434 L 685.509041 879.989309 L 689.024219 879.426478 L 696.054575 879.315979 L 699.569753 878.764734 L 703.084932 875.960874 L 706.60011 874.671689 L 710.115288 873.695626 L 713.630466 873.044931 L 717.145644 872.200862 L 720.660822 870.423634 L 724.176 867.627296 L 727.691178 864.168856 L 731.206356 863.056171 L 738.236712 862.71214 L 741.75189 862.270038 L 745.267068 862.06917 L 748.782247 861.727644 L 755.812603 859.11476 L 759.327781 858.423269 L 769.873315 857.643972 L 773.388493 857.433052 L 776.903671 856.245645 L 780.418849 855.866911 L 797.99474 855.656853 L 805.025096 854.987755 L 822.600986 854.917632 L 829.631342 854.527057 L 843.692055 854.497959 L 850.722411 854.497959 L 854.237589 854.008163 L 871.813479 853.934518 L 878.843836 852.734694 L 896.419726 852.734694 L 903.450082 852.257356 L 917.510795 852.109876 L 921.025973 851.978057 L 928.056329 851.271548 L 945.632219 851.265306 L 949.147397 850.840249 L 956.177753 850.623946 L 970.238466 850.413035 L 973.753644 850.128773 L 977.268822 849.553562 L 987.814356 849.280837 L 994.844712 849.128829 L 998.35989 848.804 L 1005.390247 848.718367 L 1022.966137 848.612989 L 1029.996493 848.506955 L 1065.148274 848.242245 L 1096.784877 847.89162 L 1100.300055 847.657275 L 1110.845589 847.395734 L 1114.360767 847.338407 L 1117.875945 846.999176 L 1121.391123 845.981624 L 1128.421479 844.75916 L 1131.936658 844.108174 L 1138.967014 843.220608 L 1145.99737 839.072589 L 1149.512548 838.240046 L 1156.542904 837.94141 L 1167.088438 837.845541 L 1177.633973 836.638727 L 1181.149151 836.077075 L 1184.664329 835.841933 L 1188.179507 834.916886 L 1191.694685 834.196903 L 1195.209863 832.381536 L 1202.240219 828.490274 L 1205.755397 825.678131 L 1209.270575 823.451848 L 1212.785753 822.256436 L 1216.300932 821.635302 L 1219.81611 820.545676 L 1223.331288 818.397093 L 1233.876822 813.777857 L 1240.907178 811.015345 L 1244.422356 808.382713 L 1247.937534 804.301707 L 1251.452712 801.372392 L 1254.96789 799.612692 L 1258.483068 798.887826 L 1265.513425 798.187249 L 1269.028603 797.264902 L 1272.543781 795.055362 L 1276.058959 793.556731 L 1283.089315 791.324678 L 1286.604493 789.818173 L 1290.119671 788.754136 L 1293.634849 788.037081 L 1300.665205 787.476081 L 1311.21074 785.808221 L 1318.241096 784.787252 L 1321.756274 784.084216 L 1328.78663 783.711521 L 1360.423233 783.697818 L 1381.514301 783.60282 L 1444.787507 783.290531 L 1462.363397 783.170658 L 1469.393753 781.244501 L 1472.908932 776.909114 L 1476.42411 773.974492 L 1479.939288 767.037124 L 1483.454466 760.788933 L 1486.969644 752.576341 L 1490.484822 743.579628 L 1490.484822 743.579628 " clip-path="url(#p8bc5537859)" style="fill: none; stroke: #2b35b3; stroke-linecap: square"/>
   </g>
   <g id="line2d_89">
    <path d="M 210.96 994.833077 L 214.475178 988.869895 L 217.990356 985.120372 L 221.505534 981.677066 L 228.53589 973.742719 L 232.051068 967.112646 L 235.566247 963.441238 L 242.596603 963.415006 L 246.111781 961.93619 L 249.626959 960.139543 L 253.142137 957.64435 L 256.657315 951.909261 L 260.172493 947.267288 L 344.536767 947.118367 L 348.051945 946.90881 L 351.567123 946.433786 L 355.082301 945.426243 L 358.597479 944.264187 L 369.143014 943.441537 L 386.718904 942.828554 L 390.234082 942.711381 L 393.74926 942.362217 L 404.294795 942.237511 L 442.961753 942.037241 L 474.598356 941.921727 L 478.113534 941.689096 L 481.628712 940.84898 L 485.14389 940.832069 L 488.659068 940.420104 L 495.689425 939.268614 L 502.719781 938.483558 L 506.234959 937.92853 L 513.265315 937.888976 L 516.780493 936.595661 L 520.295671 935.492596 L 523.810849 933.135713 L 527.326027 932.355305 L 530.841205 931.836735 L 541.38674 931.814431 L 544.901918 931.401562 L 555.447452 927.03179 L 558.96263 923.308115 L 583.568877 922.533204 L 587.084055 920.822778 L 590.599233 918.820263 L 594.114411 918.2148 L 597.629589 917.852566 L 601.144767 916.15472 L 604.659945 915.477551 L 622.235836 915.426756 L 625.751014 914.723618 L 629.266192 913.172248 L 632.78137 911.154675 L 636.296548 910.940994 L 639.811726 910.083021 L 643.326904 908.616199 L 650.35726 908.327281 L 653.872438 906.625322 L 657.387616 906.369687 L 660.902795 904.984179 L 664.417973 904.092243 L 667.933151 903.474247 L 671.448329 901.95289 L 674.963507 900.053067 L 678.478685 898.514772 L 685.509041 897.826887 L 689.024219 897.448835 L 699.569753 897.128519 L 703.084932 896.661019 L 710.115288 896.436818 L 713.630466 895.961271 L 717.145644 894.793345 L 720.660822 892.261547 L 727.691178 886.585404 L 731.206356 883.609495 L 734.721534 881.038981 L 738.236712 879.217009 L 745.267068 878.536451 L 748.782247 876.18334 L 752.297425 873.547889 L 762.842959 873.409606 L 766.358137 872.873942 L 769.873315 871.9155 L 773.388493 869.970933 L 776.903671 868.204455 L 780.418849 868.016327 L 819.085808 868.016327 L 822.600986 867.556127 L 826.116164 866.20333 L 833.146521 865.763265 L 843.692055 865.763265 L 847.207233 865.381797 L 850.722411 862.82755 L 854.237589 862.138776 L 857.752767 862.104957 L 861.267945 861.421099 L 864.783123 860.981701 L 885.874192 860.319168 L 892.904548 859.757589 L 896.419726 857.857364 L 899.934904 856.161536 L 903.450082 855.976526 L 910.480438 855.085868 L 913.995616 853.386243 L 921.025973 850.666281 L 924.541151 849.359818 L 931.571507 847.733046 L 935.086685 847.038243 L 942.117041 846.056041 L 945.632219 844.649969 L 949.147397 843.049586 L 952.662575 838.970271 L 959.692932 832.8776 L 963.20811 827.429989 L 966.723288 823.782714 L 970.238466 822.072381 L 973.753644 819.850221 L 977.268822 817.11352 L 980.784 814.019209 L 987.814356 810.881279 L 991.329534 810.620826 L 994.844712 810.113375 L 1005.390247 810.044756 L 1012.420603 810.047133 L 1015.935781 809.851079 L 1022.966137 808.326557 L 1026.481315 807.359883 L 1033.511671 806.727833 L 1037.026849 805.936918 L 1044.057205 804.048951 L 1051.087562 800.960405 L 1058.117918 798.875825 L 1061.633096 796.4152 L 1068.663452 794.195861 L 1072.17863 793.120837 L 1075.693808 792.633122 L 1086.239342 792.342857 L 1103.815233 792.25224 L 1107.330411 791.285566 L 1110.845589 790.869034 L 1114.360767 789.638772 L 1117.875945 787.548666 L 1121.391123 786.751812 L 1124.906301 786.553695 L 1128.421479 784.241078 L 1131.936658 777.902522 L 1135.451836 774.710204 L 1138.967014 774.664319 L 1142.482192 766.477224 L 1145.99737 754.057391 L 1149.512548 752.577316 L 1156.542904 752.54682 L 1167.088438 750.917056 L 1170.603616 749.926531 L 1174.118795 749.87676 L 1177.633973 748.107921 L 1181.149151 745.27687 L 1184.664329 743.297593 L 1188.179507 741.910023 L 1191.694685 739.736164 L 1195.209863 739.349753 L 1198.725041 734.233347 L 1202.240219 731.294095 L 1209.270575 730.042712 L 1212.785753 727.042041 L 1216.300932 719.824565 L 1219.81611 715.547776 L 1223.331288 715.547776 L 1226.846466 713.351096 L 1233.876822 709.661582 L 1237.392 708.975401 L 1240.907178 702.347182 L 1244.422356 697.731894 L 1247.937534 695.623372 L 1251.452712 690.411478 L 1258.483068 690.411478 L 1261.998247 690.084421 L 1265.513425 683.463497 L 1269.028603 670.784994 L 1272.543781 666.296006 L 1276.058959 665.002222 L 1279.574137 653.583195 L 1283.089315 645.389121 L 1286.604493 642.032397 L 1290.119671 636.27897 L 1293.634849 632.484128 L 1297.150027 628.070768 L 1300.665205 622.834334 L 1304.180384 616.079316 L 1307.695562 613.929781 L 1311.21074 611.100143 L 1314.725918 611.054905 L 1318.241096 609.393234 L 1321.756274 605.104514 L 1325.271452 599.941533 L 1328.78663 594.527671 L 1332.301808 591.232191 L 1335.816986 590.334353 L 1339.332164 589.999933 L 1342.847342 580.077537 L 1346.362521 575.193933 L 1349.877699 571.027697 L 1353.392877 568.306269 L 1356.908055 566.099255 L 1360.423233 565.499617 L 1363.938411 564.510973 L 1392.059836 564.356483 L 1399.090192 564.104305 L 1409.635726 563.789587 L 1413.150904 558.435038 L 1416.666082 547.035384 L 1420.18126 539.51802 L 1423.696438 535.734435 L 1427.211616 534.048916 L 1430.726795 533.863212 L 1434.241973 530.907423 L 1437.757151 526.807194 L 1441.272329 523.889601 L 1444.787507 519.993243 L 1448.302685 512.816421 L 1455.333041 500.12761 L 1458.848219 491.477451 L 1462.363397 480.836454 L 1465.878575 465.095648 L 1469.393753 448.459293 L 1472.908932 435.231859 L 1476.42411 424.218309 L 1479.939288 410.405946 L 1483.454466 394.73411 L 1490.484822 360.719508 L 1490.484822 360.719508 " clip-path="url(#p8bc5537859)" style="fill: none; stroke: #1f2783; stroke-linecap: square"/>
   </g>
   <g id="line2d_90">
    <path d="M 210.96 995.621143 L 217.990356 983.403686 L 221.505534 982.07573 L 225.020712 978.41188 L 232.051068 978.281511 L 239.081425 977.395887 L 242.596603 976.981599 L 246.111781 972.529041 L 249.626959 965.558335 L 253.142137 952.361826 L 256.657315 943.434046 L 260.172493 937.565768 L 263.687671 934.851 L 267.202849 931.67402 L 270.718027 931.662938 L 274.233205 927.522839 L 277.748384 920.488902 L 281.263562 915.546738 L 284.77874 909.318443 L 288.293918 899.991775 L 291.809096 894.758066 L 295.324274 886.639288 L 298.839452 882.002245 L 302.35463 866.689398 L 305.869808 860.863014 L 312.900164 855.12386 L 316.415342 854.356586 L 323.445699 850.649671 L 326.960877 847.279779 L 330.476055 843.452745 L 337.506411 841.469031 L 341.021589 841.127258 L 348.051945 840.67598 L 355.082301 840.664286 L 358.597479 840.424989 L 362.112658 838.980321 L 365.627836 838.864286 L 369.143014 838.864286 L 372.658192 838.164317 L 376.17337 836.296179 L 379.688548 833.709721 L 383.203726 831.32414 L 386.718904 826.326743 L 390.234082 822.773061 L 393.74926 821.053986 L 397.264438 820.500367 L 404.294795 820.353471 L 407.809973 820.108236 L 411.325151 819.612316 L 414.840329 818.86224 L 1494 818.424 L 418.355507 816.556916 L 421.870685 814.091271 L 425.385863 811.171744 L 428.901041 810.877182 L 435.931397 810.709203 L 439.446575 809.554216 L 442.961753 808.073329 L 446.476932 803.503597 L 449.99211 800.642561 L 457.022466 800.499608 L 460.537644 799.871214 L 464.052822 798.633721 L 467.568 795.983184 L 471.083178 791.304031 L 474.598356 787.676606 L 478.113534 787.486597 L 481.628712 787.08895 L 488.659068 786.972557 L 492.174247 786.497533 L 495.689425 781.621709 L 499.204603 779.587058 L 502.719781 779.559982 L 506.234959 778.32492 L 509.750137 778.303729 L 513.265315 776.874099 L 516.780493 774.098958 L 520.295671 772.879986 L 523.810849 771.849761 L 527.326027 768.826884 L 537.871562 767.644492 L 541.38674 766.619331 L 544.901918 764.029953 L 548.417096 762.213874 L 551.932274 762.182786 L 555.447452 761.718548 L 562.477808 761.584637 L 565.992986 761.34799 L 573.023342 756.879959 L 583.568877 756.503333 L 587.084055 756.23721 L 590.599233 754.655379 L 594.114411 753.831109 L 597.629589 752.342443 L 615.205479 752.092128 L 618.720658 751.489422 L 622.235836 750.366404 L 629.266192 750.202829 L 632.78137 747.159281 L 636.296548 745.923177 L 650.35726 745.649136 L 657.387616 745.064172 L 660.902795 741.977671 L 671.448329 738.829009 L 674.963507 738.163975 L 678.478685 737.766427 L 681.993863 736.977961 L 685.509041 735.75118 L 689.024219 735.206356 L 692.539397 733.548459 L 696.054575 731.645021 L 699.569753 730.87723 L 706.60011 730.356833 L 713.630466 730.348889 L 717.145644 729.738532 L 720.660822 728.218455 L 724.176 728.177242 L 727.691178 727.188799 L 738.236712 726.603005 L 741.75189 722.683397 L 745.267068 717.750955 L 752.297425 712.025641 L 755.812603 707.019674 L 759.327781 704.720839 L 762.842959 704.100939 L 766.358137 700.255807 L 769.873315 694.583512 L 773.388493 690.05179 L 776.903671 685.871578 L 780.418849 682.52823 L 783.934027 678.919447 L 787.449205 677.779389 L 790.964384 673.099359 L 794.479562 668.218462 L 797.99474 662.131864 L 801.509918 661.104781 L 812.055452 660.560431 L 815.57063 656.892714 L 819.085808 649.281577 L 822.600986 645.38638 L 826.116164 644.679874 L 829.631342 642.80179 L 833.146521 640.325825 L 836.661699 639.454135 L 840.176877 638.748809 L 843.692055 636.169354 L 847.207233 632.628349 L 850.722411 628.443642 L 854.237589 627.093867 L 861.267945 624.19626 L 864.783123 621.733109 L 868.298301 618.311859 L 871.813479 617.714185 L 875.328658 616.764137 L 878.843836 616.061598 L 882.359014 615.553862 L 885.874192 614.792248 L 889.38937 612.746204 L 892.904548 610.281482 L 896.419726 609.527765 L 899.934904 608.93849 L 906.96526 608.163354 L 910.480438 607.23271 L 913.995616 605.237609 L 917.510795 600.859952 L 921.025973 598.809431 L 924.541151 597.10929 L 928.056329 596.539262 L 931.571507 596.229857 L 935.086685 595.232998 L 938.601863 593.801262 L 945.632219 588.600669 L 949.147397 585.111994 L 956.177753 577.012569 L 959.692932 572.024395 L 963.20811 565.521853 L 966.723288 560.296588 L 970.238466 553.624796 L 973.753644 545.224104 L 977.268822 539.550279 L 980.784 534.289645 L 984.299178 529.539135 L 987.814356 521.721846 L 991.329534 516.971605 L 994.844712 515.027343 L 998.35989 511.132146 L 1001.875068 509.273949 L 1005.390247 508.461701 L 1008.905425 507.485263 L 1012.420603 505.469832 L 1015.935781 502.999706 L 1019.450959 501.864028 L 1029.996493 500.346731 L 1033.511671 499.675464 L 1037.026849 498.113162 L 1040.542027 496.025159 L 1044.057205 495.550828 L 1047.572384 495.246931 L 1054.60274 493.951335 L 1058.117918 493.571316 L 1065.148274 489.907609 L 1075.693808 488.931574 L 1082.724164 488.105618 L 1086.239342 486.717577 L 1089.754521 485.767796 L 1093.269699 485.130223 L 1096.784877 482.590511 L 1100.300055 482.10253 L 1103.815233 482.007525 L 1110.845589 480.918191 L 1114.360767 479.398114 L 1117.875945 478.95504 L 1121.391123 478.356419 L 1124.906301 476.466914 L 1128.421479 475.61187 L 1131.936658 473.821497 L 1135.451836 469.943368 L 1138.967014 467.795203 L 1149.512548 465.132814 L 1156.542904 461.787248 L 1160.058082 458.894835 L 1163.57326 456.438276 L 1167.088438 456.041435 L 1170.603616 455.842574 L 1174.118795 455.36755 L 1181.149151 455.348609 L 1184.664329 454.524678 L 1188.179507 452.909596 L 1195.209863 451.9037 L 1198.725041 451.492624 L 1202.240219 450.162557 L 1205.755397 449.148628 L 1209.270575 447.533511 L 1212.785753 442.798869 L 1216.300932 441.904318 L 1219.81611 441.239128 L 1223.331288 439.460884 L 1226.846466 439.354926 L 1230.361644 437.903749 L 1233.876822 434.57858 L 1237.392 427.120204 L 1240.907178 425.037517 L 1244.422356 424.342676 L 1247.937534 423.867652 L 1251.452712 422.308693 L 1254.96789 418.918604 L 1258.483068 415.045619 L 1261.998247 410.235375 L 1265.513425 407.878595 L 1272.543781 404.460147 L 1276.058959 403.537351 L 1283.089315 399.01455 L 1286.604493 395.818062 L 1293.634849 394.15808 L 1297.150027 393.943013 L 1304.180384 391.794953 L 1307.695562 389.894841 L 1311.21074 387.863083 L 1314.725918 384.537313 L 1318.241096 381.503871 L 1321.756274 377.934439 L 1325.271452 376.547387 L 1328.78663 371.728209 L 1332.301808 367.406424 L 1335.816986 365.322818 L 1342.847342 359.257633 L 1346.362521 359.058208 L 1349.877699 350.542241 L 1353.392877 347.600245 L 1356.908055 346.799821 L 1360.423233 343.590407 L 1363.938411 341.033914 L 1367.453589 340.120537 L 1370.968767 338.792581 L 1374.483945 336.679637 L 1377.999123 331.966102 L 1381.514301 329.221567 L 1385.029479 326.048745 L 1388.544658 320.772646 L 1392.059836 319.366575 L 1395.575014 317.152873 L 1399.090192 313.99667 L 1402.60537 310.407133 L 1406.120548 307.690859 L 1409.635726 306.550274 L 1416.666082 306.150093 L 1423.696438 306.053327 L 1427.211616 304.626005 L 1430.726795 301.96583 L 1434.241973 295.828354 L 1437.757151 292.875558 L 1441.272329 285.064051 L 1444.787507 278.263367 L 1448.302685 271.952024 L 1451.817863 262.124638 L 1455.333041 247.40068 L 1458.848219 233.757832 L 1462.363397 224.314475 L 1465.878575 202.071294 L 1469.393753 189.962683 L 1472.908932 189.360303 L 1479.939288 184.341295 L 1483.454466 179.121334 L 1486.969644 172.856807 L 1490.484822 165.500971 L 1490.484822 165.500971 " clip-path="url(#p8bc5537859)" style="fill: none; stroke: #141a52; stroke-linecap: square"/>
   </g>
   <g id="patch_3">
    <path d="M 146.88 1045.8 L 146.88 123.84 " style="fill: none; stroke: #000000; stroke-width: 0.8; stroke-linejoin: miter; stroke-linecap: square"/>
   </g>
   <g id="patch_4">
    <path d="M 1558.08 1045.8 L 1558.08 123.84 " style="fill: none; stroke: #000000; stroke-width: 0.8; stroke-linejoin: miter; stroke-linecap: square"/>
   </g>
   <g id="patch_5">
    <path d="M 146.88 1045.8 L 1558.08 1045.8 " style="fill: none; stroke: #000000; stroke-width: 0.8; stroke-linejoin: miter; stroke-linecap: square"/>
   </g>
   <g id="patch_6">
    <path d="M 146.88 123.84 L 1558.08 123.84 " style="fill: none; stroke: #000000; stroke-width: 0.8; stroke-linejoin: miter; stroke-linecap: square"/>
   </g>
   <g id="text_24">
    <!-- time interval: 1hr -->
    <g transform="translate(1366.123125 119.24) scale(0.22 -0.22)">
     <defs>
      <path id="DejaVuSans-72" d="M 2631 2963 Q 2534 3019 2420 3045 Q 2306 3072 2169 3072 Q 1681 3072 1420 2755 Q 1159 2438 1159 1844 L 1159 0 L 581 0 L 581 3500 L 1159 3500 L 1159 2956 Q 1341 3275 1631 3429 Q 1922 3584 2338 3584 Q 2397 3584 2469 3576 Q 2541 3569 2628 3553 L 2631 2963 z
" transform="scale(0.015625)"/>
      <path id="DejaVuSans-76" d="M 191 3500 L 800 3500 L 1894 563 L 2988 3500 L 3597 3500 L 2284 0 L 1503 0 L 191 3500 z
" transform="scale(0.015625)"/>
      <path id="DejaVuSans-6c" d="M 603 4863 L 1178 4863 L 1178 0 L 603 0 L 603 4863 z
" transform="scale(0.015625)"/>
      <path id="DejaVuSans-3a" d="M 750 794 L 1409 794 L 1409 0 L 750 0 L 750 794 z
M 750 3309 L 1409 3309 L 1409 2516 L 750 2516 L 750 3309 z
" transform="scale(0.015625)"/>
     </defs>
     <use href="#DejaVuSans-74"/>
     <use href="#DejaVuSans-69" transform="translate(39.208984 0)"/>
     <use href="#DejaVuSans-6d" transform="translate(66.992188 0)"/>
     <use href="#DejaVuSans-65" transform="translate(164.404297 0)"/>
     <use href="#DejaVuSans-20" transform="translate(225.927734 0)"/>
     <use href="#DejaVuSans-69" transform="translate(257.714844 0)"/>
     <use href="#DejaVuSans-6e" transform="translate(285.498047 0)"/>
     <use href="#DejaVuSans-74" transform="translate(348.876953 0)"/>
     <use href="#DejaVuSans-65" transform="translate(388.085938 0)"/>
     <use href="#DejaVuSans-72" transform="translate(449.609375 0)"/>
     <use href="#DejaVuSans-76" transform="translate(490.722656 0)"/>
     <use href="#DejaVuSans-61" transform="translate(549.902344 0)"/>
     <use href="#DejaVuSans-6c" transform="translate(611.181641 0)"/>
     <use href="#DejaVuSans-3a" transform="translate(638.964844 0)"/>
     <use href="#DejaVuSans-20" transform="translate(672.65625 0)"/>
     <use href="#DejaVuSans-31" transform="translate(704.443359 0)"/>
     <use href="#DejaVuSans-68" transform="translate(768.066406 0)"/>
     <use href="#DejaVuSans-72" transform="translate(831.445312 0)"/>
    </g>
   </g>
   <g id="legend_1">
    <g id="patch_7">
     <path d="M 1573.7840 270.5400 L 1700.0200 270.5400 Q 1704.4200 270.5400 1704.4200 266.1400 L 1704.4200 139.6880 Q 1704.4200 135.2880 1700.0200 135.2880 L 1573.7840 135.2880 Q 1569.3840 135.2880 1569.3840 139.6880 L 1569.3840 266.1400 Q 1569.3840 270.5400 1573.7840 270.5400 z" style="fill: #ffffff; opacity: 0.8; stroke: #cccccc; stroke-linejoin: miter"/>
    </g>
    <g id="line2d_91">
     <path d="M 1577.88 152.656563 L 1599.88 152.656563 L 1621.88 152.656563 " style="fill: none; stroke: #4a54d0; stroke-linecap: square"/>
    </g>
    <g id="text_25">
     <!-- 2021 -->
     <g transform="translate(1639.48 160.356563) scale(0.22 -0.22)">
      <use href="#DejaVuSans-32"/>
      <use href="#DejaVuSans-30" transform="translate(63.623047 0)"/>
      <use href="#DejaVuSans-32" transform="translate(127.246094 0)"/>
      <use href="#DejaVuSans-31" transform="translate(190.869141 0)"/>
     </g>
    </g>
    <g id="line2d_92">
     <path d="M 1577.88 184.948438 L 1599.88 184.948438 L 1621.88 184.948438 " style="fill: none; stroke: #2b35b3; stroke-linecap: square"/>
    </g>
    <g id="text_26">
     <!-- 2022 -->
     <g transform="translate(1639.48 192.648438) scale(0.22 -0.22)">
      <use href="#DejaVuSans-32"/>
      <use href="#DejaVuSans-30" transform="translate(63.623047 0)"/>
      <use href="#DejaVuSans-32" transform="translate(127.246094 0)"/>
      <use href="#DejaVuSans-32" transform="translate(190.869141 0)"/>
     </g>
    </g>
    <g id="line2d_93">
     <path d="M 1577.88 217.240313 L 1599.88 217.240313 L 1621.88 217.240313 " style="fill: none; stroke: #1f2783; stroke-linecap: square"/>
    </g>
    <g id="text_27">
     <!-- 2023 -->
     <g transform="translate(1639.48 224.940313) scale(0.22 -0.22)">
      <use href="#DejaVuSans-32"/>
      <use href="#DejaVuSans-30" transform="translate(63.623047 0)"/>
      <use href="#DejaVuSans-32" transform="translate(127.246094 0)"/>
      <use href="#DejaVuSans-33" transform="translate(190.869141 0)"/>
     </g>
    </g>
    <g id="line2d_94">
     <path d="M 1577.88 249.532188 L 1599.88 249.532188 L 1621.88 249.532188 " style="fill: none; stroke: #141a52; stroke-linecap: square"/>
    </g>
    <g id="text_28">
     <!-- 2024 -->
     <g transform="translate(1639.48 257.232188) scale(0.22 -0.22)">
      <use href="#DejaVuSans-32"/>
      <use href="#DejaVuSans-30" transform="translate(63.623047 0)"/>
      <use href="#DejaVuSans-32" transform="translate(127.246094 0)"/>
      <use href="#DejaVuSans-34" transform="translate(190.869141 0)"/>
     </g>
    </g>
   </g>
  </g>
  <g id="text_29">
   <!-- Cumulative consumption (leontief) in [XK] kosovo - other renewable -->
   <g transform="translate(414.657562 43.099875) scale(0.264 -0.264)">
    <defs>
     <path id="DejaVuSans-63" d="M 3122 3366 L 3122 2828 Q 2878 2963 2633 3030 Q 2388 3097 2138 3097 Q 1578 3097 1268 2742 Q 959 2388 959 1747 Q 959 1106 1268 751 Q 1578 397 2138 397 Q 2388 397 2633 464 Q 2878 531 3122 666 L 3122 134 Q 2881 22 2623 -34 Q 2366 -91 2075 -91 Q 1284 -91 818 406 Q 353 903 353 1747 Q 353 2603 823 3093 Q 1294 3584 2113 3584 Q 2378 3584 2631 3529 Q 2884 3475 3122 3366 z
" transform="scale(0.015625)"/>
     <path id="DejaVuSans-58" d="M 403 4666 L 1081 4666 L 2241 2931 L 3406 4666 L 4084 4666 L 2584 2425 L 4184 0 L 3506 0 L 2194 1984 L 872 0 L 191 0 L 1856 2491 L 403 4666 z
" transform="scale(0.015625)"/>
     <path id="DejaVuSans-4b" d="M 628 4666 L 1259 4666 L 1259 2694 L 3353 4666 L 4166 4666 L 1850 2491 L 4331 0 L 3500 0 L 1259 2247 L 1259 0 L 628 0 L 628 4666 z
" transform="scale(0.015625)"/>
     <path id="DejaVuSans-6b" d="M 581 4863 L 1159 4863 L 1159 1991 L 2875 3500 L 3609 3500 L 1753 1863 L 3688 0 L 2938 0 L 1159 1709 L 1159 0 L 581 0 L 581 4863 z
" transform="scale(0.015625)"/>
     <path id="DejaVuSans-77" d="M 269 3500 L 844 3500 L 1563 769 L 2278 3500 L 2956 3500 L 3675 769 L 4391 3500 L 4966 3500 L 4050 0 L 3372 0 L 2619 2869 L 1863 0 L 1184 0 L 269 3500 z
" transform="scale(0.015625)"/>
     <path id="DejaVuSans-62" d="M 3116 1747 Q 3116 2381 2855 2742 Q 2594 3103 2138 3103 Q 1681 3103 1420 2742 Q 1159 2381 1159 1747 Q 1159 1113 1420 752 Q 1681 391 2138 391 Q 2594 391 2855 752 Q 3116 1113 3116 1747 z
M 1159 2969 Q 1341 3281 1617 3432 Q 1894 3584 2278 3584 Q 2916 3584 3314 3078 Q 3713 2572 3713 1747 Q 3713 922 3314 415 Q 2916 -91 2278 -91 Q 1894 -91 1617 61 Q 1341 213 1159 525 L 1159 0 L 581 0 L 581 4863 L 1159 4863 L 1159 2969 z
" transform="scale(0.015625)"/>
    </defs>
    <use href="#DejaVuSans-43"/>
    <use href="#DejaVuSans-75" transform="translate(69.824219 0)"/>
    <use href="#DejaVuSans-6d" transform="translate(133.203125 0)"/>
    <use href="#DejaVuSans-75" transform="translate(230.615234 0)"/>
    <use href="#DejaVuSans-6c" transform="translate(293.994141 0)"/>
    <use href="#DejaVuSans-61" transform="translate(321.777344 0)"/>
    <use href="#DejaVuSans-74" transform="translate(383.056641 0)"/>
    <use href="#DejaVuSans-69" transform="translate(422.265625 0)"/>
    <use href="#DejaVuSans-76" transform="translate(450.048828 0)"/>
    <use href="#DejaVuSans-65" transform="translate(509.228516 0)"/>
    <use href="#DejaVuSans-20" transform="translate(570.751953 0)"/>
    <use href="#DejaVuSans-63" transform="translate(602.539062 0)"/>
    <use href="#DejaVuSans-6f" transform="translate(657.519531 0)"/>
    <use href="#DejaVuSans-6e" transform="translate(718.701172 0)"/>
    <use href="#DejaVuSans-73" transform="translate(782.080078 0)"/>
    <use href="#DejaVuSans-75" transform="translate(834.179688 0)"/>
    <use href="#DejaVuSans-6d" transform="translate(897.558594 0)"/>
    <use href="#DejaVuSans-70" transform="translate(994.970703 0)"/>
    <use href="#DejaVuSans-74" transform="translate(1058.447266 0)"/>
    <use href="#DejaVuSans-69" transform="translate(1097.65625 0)"/>
    <use href="#DejaVuSans-6f" transform="translate(1125.439453 0)"/>
    <use href="#DejaVuSans-6e" transform="translate(1186.621094 0)"/>
    <use href="#DejaVuSans-20" transform="translate(1250 0)"/>
    <use href="#DejaVuSans-28" transform="translate(1281.787109 0)"/>
    <use href="#DejaVuSans-6c" transform="translate(1320.800781 0)"/>
    <use href="#DejaVuSans-65" transform="translate(1348.583984 0)"/>
    <use href="#DejaVuSans-6f" transform="translate(1410.107422 0)"/>
    <use href="#DejaVuSans-6e" transform="translate(1471.289062 0)"/>
    <use href="#DejaVuSans-74" transform="translate(1534.667969 0)"/>
    <use href="#DejaVuSans-69" transform="translate(1573.876953 0)"/>
    <use href="#DejaVuSans-65" transform="translate(1601.660156 0)"/>
    <use href="#DejaVuSans-66" transform="translate(1663.183594 0)"/>
    <use href="#DejaVuSans-29" transform="translate(1698.388672 0)"/>
    <use href="#DejaVuSans-20" transform="translate(1737.402344 0)"/>
    <use href="#DejaVuSans-69" transform="translate(1769.189453 0)"/>
    <use href="#DejaVuSans-6e" transform="translate(1796.972656 0)"/>
    <use href="#DejaVuSans-20" transform="translate(1860.351562 0)"/>
    <use href="#DejaVuSans-5b" transform="translate(1892.138672 0)"/>
    <use href="#DejaVuSans-58" transform="translate(1931.152344 0)"/>
    <use href="#DejaVuSans-4b" transform="translate(1999.658203 0)"/>
    <use href="#DejaVuSans-5d" transform="translate(2065.234375 0)"/>
    <use href="#DejaVuSans-20" transform="translate(2104.248047 0)"/>
    <use href="#DejaVuSans-6b" transform="translate(2136.035156 0)"/>
    <use href="#DejaVuSans-6f" transform="translate(2190.320312 0)"/>
    <use href="#DejaVuSans-73" transform="translate(2251.501953 0)"/>
    <use href="#DejaVuSans-6f" transform="translate(2303.601562 0)"/>
    <use href="#DejaVuSans-76" transform="translate(2364.783203 0)"/>
    <use href="#DejaVuSans-6f" transform="translate(2423.962891 0)"/>
    <use href="#DejaVuSans-20" transform="translate(2485.144531 0)"/>
    <use href="#DejaVuSans-2d" transform="translate(2516.931641 0)"/>
    <use href="#DejaVuSans-20" transform="translate(2553.015625 0)"/>
    <use href="#DejaVuSans-6f" transform="translate(2584.802734 0)"/>
    <use href="#DejaVuSans-74" transform="translate(2645.984375 0)"/>
    <use href="#DejaVuSans-68" transform="translate(2685.193359 0)"/>
    <use href="#DejaVuSans-65" transform="translate(2748.572266 0)"/>
    <use href="#DejaVuSans-72" transform="translate(2810.095703 0)"/>
    <use href="#DejaVuSans-20" transform="translate(2851.208984 0)"/>
    <use href="#DejaVuSans-72" transform="translate(2882.996094 0)"/>
    <use href="#DejaVuSans-65" transform="translate(2921.859375 0)"/>
    <use href="#DejaVuSans-6e" transform="translate(2983.382812 0)"/>
    <use href="#DejaVuSans-65" transform="translate(3046.761719 0)"/>
    <use href="#DejaVuSans-77" transform="translate(3108.285156 0)"/>
    <use href="#DejaVuSans-61" transform="translate(3190.072266 0)"/>
    <use href="#DejaVuSans-62" transform="translate(3251.351562 0)"/>
    <use href="#DejaVuSans-6c" transform="translate(3314.828125 0)"/>
    <use href="#DejaVuSans-65" transform="translate(3342.611328 0)"/>
   </g>
   <!-- 01-01-2016 to 01-01-2025 -->
   <g transform="translate(688.932937 72.6621) scale(0.264 -0.264)">
    <use href="#DejaVuSans-30"/>
    <use href="#DejaVuSans-31" transform="translate(63.623047 0)"/>
    <use href="#DejaVuSans-2d" transform="translate(127.246094 0)"/>
    <use href="#DejaVuSans-30" transform="translate(163.330078 0)"/>
    <use href="#DejaVuSans-31" transform="translate(226.953125 0)"/>
    <use href="#DejaVuSans-2d" transform="translate(290.576172 0)"/>
    <use href="#DejaVuSans-32" transform="translate(326.660156 0)"/>
    <use href="#DejaVuSans-30" transform="translate(390.283203 0)"/>
    <use href="#DejaVuSans-31" transform="translate(453.90625 0)"/>
    <use href="#DejaVuSans-36" transform="translate(517.529297 0)"/>
    <use href="#DejaVuSans-20" transform="translate(581.152344 0)"/>
    <use href="#DejaVuSans-74" transform="translate(612.939453 0)"/>
    <use href="#DejaVuSans-6f" transform="translate(652.148438 0)"/>
    <use href="#DejaVuSans-20" transform="translate(713.330078 0)"/>
    <use href="#DejaVuSans-30" transform="translate(745.117188 0)"/>
    <use href="#DejaVuSans-31" transform="translate(808.740234 0)"/>
    <use href="#DejaVuSans-2d" transform="translate(872.363281 0)"/>
    <use href="#DejaVuSans-30" transform="translate(908.447266 0)"/>
    <use href="#DejaVuSans-31" transform="translate(972.070312 0)"/>
    <use href="#DejaVuSans-2d" transform="translate(1035.693359 0)"/>
    <use href="#DejaVuSans-32" transform="translate(1071.777344 0)"/>
    <use href="#DejaVuSans-30" transform="translate(1135.400391 0)"/>
    <use href="#DejaVuSans-32" transform="translate(1199.023438 0)"/>
    <use href="#DejaVuSans-35" transform="translate(1262.646484 0)"/>
   </g>
  </g>
  <g id="text_30">
   <!-- Thomas Auriel - CC BY-SA -->
   <g transform="translate(1441.447188 23.988563) scale(0.22 -0.22)">
    <defs>
     <path id="DejaVuSans-41" d="M 2188 4044 L 1331 1722 L 3047 1722 L 2188 4044 z
M 1831 4666 L 2547 4666 L 4325 0 L 3669 0 L 3244 1197 L 1141 1197 L 716 0 L 50 0 L 1831 4666 z
" transform="scale(0.015625)"/>
     <path id="DejaVuSans-42" d="M 1259 2228 L 1259 519 L 2272 519 Q 2781 519 3026 730 Q 3272 941 3272 1375 Q 3272 1813 3026 2020 Q 2781 2228 2272 2228 L 1259 2228 z
M 1259 4147 L 1259 2741 L 2194 2741 Q 2656 2741 2882 2914 Q 3109 3088 3109 3444 Q 3109 3797 2882 3972 Q 2656 4147 2194 4147 L 1259 4147 z
M 628 4666 L 2241 4666 Q 2963 4666 3353 4366 Q 3744 4066 3744 3513 Q 3744 3084 3544 2831 Q 3344 2578 2956 2516 Q 3422 2416 3680 2098 Q 3938 1781 3938 1306 Q 3938 681 3513 340 Q 3088 0 2303 0 L 628 0 L 628 4666 z
" transform="scale(0.015625)"/>
     <path id="DejaVuSans-59" d="M -13 4666 L 666 4666 L 1959 2747 L 3244 4666 L 3922 4666 L 2272 2222 L 2272 0 L 1638 0 L 1638 2222 L -13 4666 z
" transform="scale(0.015625)"/>
     <path id="DejaVuSans-53" d="M 3425 4513 L 3425 3897 Q 3066 4069 2747 4153 Q 2428 4238 2131 4238 Q 1616 4238 1336 4038 Q 1056 3838 1056 3469 Q 1056 3159 1242 3001 Q 1428 2844 1947 2747 L 2328 2669 Q 3034 2534 3370 2195 Q 3706 1856 3706 1288 Q 3706 609 3251 259 Q 2797 -91 1919 -91 Q 1588 -91 1214 -16 Q 841 59 441 206 L 441 856 Q 825 641 1194 531 Q 1563 422 1919 422 Q 2459 422 2753 634 Q 3047 847 3047 1241 Q 3047 1584 2836 1778 Q 2625 1972 2144 2069 L 1759 2144 Q 1053 2284 737 2584 Q 422 2884 422 3419 Q 422 4038 858 4394 Q 1294 4750 2059 4750 Q 2388 4750 2728 4690 Q 3069 4631 3425 4513 z
" transform="scale(0.015625)"/>
    </defs>
    <use href="#DejaVuSans-54"/>
    <use href="#DejaVuSans-68" transform="translate(61.083984 0)"/>
    <use href="#DejaVuSans-6f" transform="translate(124.462891 0)"/>
    <use href="#DejaVuSans-6d" transform="translate(185.644531 0)"/>
    <use href="#DejaVuSans-61" transform="translate(283.056641 0)"/>
    <use href="#DejaVuSans-73" transform="translate(344.335938 0)"/>
    <use href="#DejaVuSans-20" transform="translate(396.435547 0)"/>
    <use href="#DejaVuSans-41" transform="translate(428.222656 0)"/>
    <use href="#DejaVuSans-75" transform="translate(496.630859 0)"/>
    <use href="#DejaVuSans-72" transform="translate(560.009766 0)"/>
    <use href="#DejaVuSans-69" transform="translate(601.123047 0)"/>
    <use href="#DejaVuSans-65" transform="translate(628.90625 0)"/>
    <use href="#DejaVuSans-6c" transform="translate(690.429688 0)"/>
    <use href="#DejaVuSans-20" transform="translate(718.212891 0)"/>
    <use href="#DejaVuSans-2d" transform="translate(750 0)"/>
    <use href="#DejaVuSans-20" transform="translate(786.083984 0)"/>
    <use href="#DejaVuSans-43" transform="translate(817.871094 0)"/>
    <use href="#DejaVuSans-43" transform="translate(887.695312 0)"/>
    <use href="#DejaVuSans-20" transform="translate(957.519531 0)"/>
    <use href="#DejaVuSans-42" transform="translate(989.306641 0)"/>
    <use href="#DejaVuSans-59" transform="translate(1052.410156 0)"/>
    <use href="#DejaVuSans-2d" transform="translate(1101.619141 0)"/>
    <use href="#DejaVuSans-53" transform="translate(1137.703125 0)"/>
    <use href="#DejaVuSans-41" transform="translate(1203.054688 0)"/>
   </g>
   <!-- Source: ENTSO-E, IPCC 2014 -->
   <g transform="translate(1406.233437 48.623750) scale(0.22 -0.22)">
    <defs>
     <path id="DejaVuSans-45" d="M 628 4666 L 3578 4666 L 3578 4134 L 1259 4134 L 1259 2753 L 3481 2753 L 3481 2222 L 1259 2222 L 1259 531 L 3634 531 L 3634 0 L 628 0 L 628 4666 z
" transform="scale(0.015625)"/>
     <path id="DejaVuSans-4e" d="M 628 4666 L 1478 4666 L 3547 763 L 3547 4666 L 4159 4666 L 4159 0 L 3309 0 L 1241 3903 L 1241 0 L 628 0 L 628 4666 z
" transform="scale(0.015625)"/>
     <path id="DejaVuSans-4f" d="M 2522 4238 Q 1834 4238 1429 3725 Q 1025 3213 1025 2328 Q 1025 1447 1429 934 Q 1834 422 2522 422 Q 3209 422 3611 934 Q 4013 1447 4013 2328 Q 4013 3213 3611 3725 Q 3209 4238 2522 4238 z
M 2522 4750 Q 3503 4750 4090 4092 Q 4678 3434 4678 2328 Q 4678 1225 4090 567 Q 3503 -91 2522 -91 Q 1538 -91 948 565 Q 359 1222 359 2328 Q 359 3434 948 4092 Q 1538 4750 2522 4750 z
" transform="scale(0.015625)"/>
     <path id="DejaVuSans-2c" d="M 750 794 L 1409 794 L 1409 256 L 897 -744 L 494 -744 L 750 256 L 750 794 z
" transform="scale(0.015625)"/>
     <path id="DejaVuSans-49" d="M 628 4666 L 1259 4666 L 1259 0 L 628 0 L 628 4666 z
" transform="scale(0.015625)"/>
     <path id="DejaVuSans-50" d="M 1259 4147 L 1259 2394 L 2053 2394 Q 2494 2394 2734 2622 Q 2975 2850 2975 3272 Q 2975 3691 2734 3919 Q 2494 4147 2053 4147 L 1259 4147 z
M 628 4666 L 2053 4666 Q 2838 4666 3239 4311 Q 3641 3956 3641 3272 Q 3641 2581 3239 2228 Q 2838 1875 2053 1875 L 1259 1875 L 1259 0 L 628 0 L 628 4666 z
" transform="scale(0.015625)"/>
    </defs>
    <use href="#DejaVuSans-53"/>
    <use href="#DejaVuSans-6f" transform="translate(63.476562 0)"/>
    <use href="#DejaVuSans-75" transform="translate(124.658203 0)"/>
    <use href="#DejaVuSans-72" transform="translate(188.037109 0)"/>
    <use href="#DejaVuSans-63" transform="translate(226.900391 0)"/>
    <use href="#DejaVuSans-65" transform="translate(281.880859 0)"/>
    <use href="#DejaVuSans-3a" transform="translate(343.404297 0)"/>
    <use href="#DejaVuSans-20" transform="translate(377.095703 0)"/>
    <use href="#DejaVuSans-45" transform="translate(408.882812 0)"/>
    <use href="#DejaVuSans-4e" transform="translate(472.066406 0)"/>
    <use href="#DejaVuSans-54" transform="translate(546.871094 0)"/>
    <use href="#DejaVuSans-53" transform="translate(607.955078 0)"/>
    <use href="#DejaVuSans-4f" transform="translate(671.431641 0)"/>
    <use href="#DejaVuSans-2d" transform="translate(752.892578 0)"/>
    <use href="#DejaVuSans-45" transform="translate(788.976562 0)"/>
    <use href="#DejaVuSans-2c" transform="translate(852.160156 0)"/>
    <use href="#DejaVuSans-20" transform="translate(883.947266 0)"/>
    <use href="#DejaVuSans-49" transform="translate(915.734375 0)"/>
    <use href="#DejaVuSans-50" transform="translate(945.226562 0)"/>
    <use href="#DejaVuSans-43" transform="translate(1005.529297 0)"/>
    <use href="#DejaVuSans-43" transform="translate(1075.353516 0)"/>
    <use href="#DejaVuSans-20" transform="translate(1145.177734 0)"/>
    <use href="#DejaVuSans-32" transform="translate(1176.964844 0)"/>
    <use href="#DejaVuSans-30" transform="translate(1240.587891 0)"/>
    <use href="#DejaVuSans-31" transform="translate(1304.210938 0)"/>
    <use href="#DejaVuSans-34" transform="translate(1367.833984 0)"/>
   </g>
  </g>
 </g>
 <defs>
  <clipPath id="p8bc5537859">
   <rect x="146.88" y="123.84" width="1411.2" height="921.96"/>
  </clipPath>
 </defs>
</svg>

</body></html>
